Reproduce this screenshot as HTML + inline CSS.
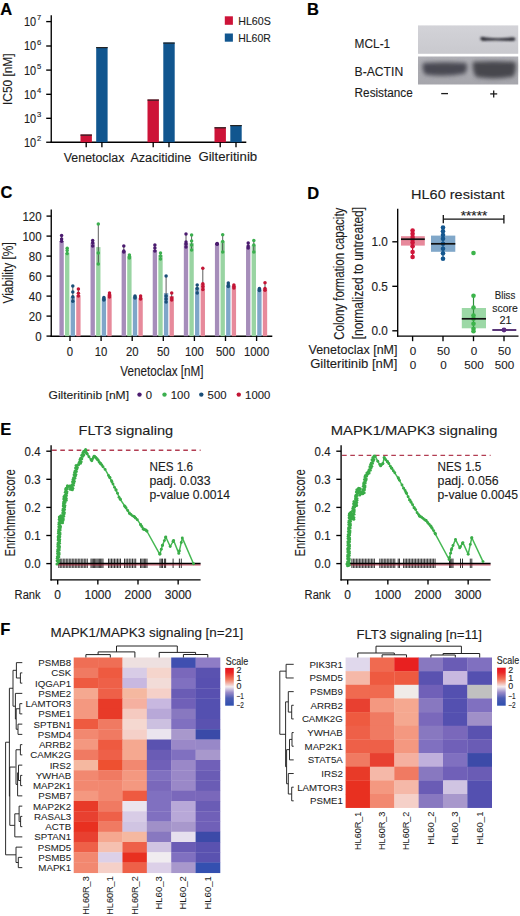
<!DOCTYPE html>
<html><head><meta charset="utf-8"><title>Figure</title>
<style>
html,body{margin:0;padding:0;background:#fff;}
body{width:520px;height:916px;overflow:hidden;}
svg{display:block;font-family:"Liberation Sans", sans-serif;}
</style></head><body>
<svg width="520" height="916" viewBox="0 0 520 916">
<rect width="520" height="916" fill="#fff"/>
<defs><filter id="blur1" x="-30%" y="-100%" width="160%" height="300%"><feGaussianBlur stdDeviation="1.1"/></filter><filter id="blur2" x="-30%" y="-60%" width="160%" height="220%"><feGaussianBlur stdDeviation="2.0"/></filter><filter id="blur3" x="-10%" y="-10%" width="120%" height="120%"><feGaussianBlur stdDeviation="0.6"/></filter></defs>
<text x="0.20" y="14.60" font-size="16.5" text-anchor="start" font-weight="bold" fill="#000" stroke="#000" stroke-width="0.2" >A</text>
<line x1="51.25" y1="15.20" x2="51.25" y2="142.90" stroke="#000" stroke-width="1.35" />
<line x1="50.60" y1="142.25" x2="246.30" y2="142.25" stroke="#000" stroke-width="1.35" />
<line x1="46.20" y1="21.60" x2="51.25" y2="21.60" stroke="#000" stroke-width="1.35" />
<text x="24.00" y="26.00" font-size="12.2" text-anchor="start" font-weight="normal" fill="#1c1c1c" stroke="#1c1c1c" stroke-width="0.12" textLength="12.2" lengthAdjust="spacingAndGlyphs" >10</text>
<text x="37.00" y="20.30" font-size="7.6" text-anchor="start" font-weight="normal" fill="#1c1c1c" stroke="#1c1c1c" stroke-width="0.15" >7</text>
<line x1="46.20" y1="46.00" x2="51.25" y2="46.00" stroke="#000" stroke-width="1.35" />
<text x="24.00" y="50.40" font-size="12.2" text-anchor="start" font-weight="normal" fill="#1c1c1c" stroke="#1c1c1c" stroke-width="0.12" textLength="12.2" lengthAdjust="spacingAndGlyphs" >10</text>
<text x="37.00" y="44.70" font-size="7.6" text-anchor="start" font-weight="normal" fill="#1c1c1c" stroke="#1c1c1c" stroke-width="0.15" >6</text>
<line x1="46.20" y1="70.10" x2="51.25" y2="70.10" stroke="#000" stroke-width="1.35" />
<text x="24.00" y="74.50" font-size="12.2" text-anchor="start" font-weight="normal" fill="#1c1c1c" stroke="#1c1c1c" stroke-width="0.12" textLength="12.2" lengthAdjust="spacingAndGlyphs" >10</text>
<text x="37.00" y="68.80" font-size="7.6" text-anchor="start" font-weight="normal" fill="#1c1c1c" stroke="#1c1c1c" stroke-width="0.15" >5</text>
<line x1="46.20" y1="94.30" x2="51.25" y2="94.30" stroke="#000" stroke-width="1.35" />
<text x="24.00" y="98.70" font-size="12.2" text-anchor="start" font-weight="normal" fill="#1c1c1c" stroke="#1c1c1c" stroke-width="0.12" textLength="12.2" lengthAdjust="spacingAndGlyphs" >10</text>
<text x="37.00" y="93.00" font-size="7.6" text-anchor="start" font-weight="normal" fill="#1c1c1c" stroke="#1c1c1c" stroke-width="0.15" >4</text>
<line x1="46.20" y1="118.30" x2="51.25" y2="118.30" stroke="#000" stroke-width="1.35" />
<text x="24.00" y="122.70" font-size="12.2" text-anchor="start" font-weight="normal" fill="#1c1c1c" stroke="#1c1c1c" stroke-width="0.12" textLength="12.2" lengthAdjust="spacingAndGlyphs" >10</text>
<text x="37.00" y="117.00" font-size="7.6" text-anchor="start" font-weight="normal" fill="#1c1c1c" stroke="#1c1c1c" stroke-width="0.15" >3</text>
<line x1="46.20" y1="142.25" x2="51.25" y2="142.25" stroke="#000" stroke-width="1.35" />
<text x="24.00" y="146.65" font-size="12.2" text-anchor="start" font-weight="normal" fill="#1c1c1c" stroke="#1c1c1c" stroke-width="0.12" textLength="12.2" lengthAdjust="spacingAndGlyphs" >10</text>
<text x="37.00" y="140.95" font-size="7.6" text-anchor="start" font-weight="normal" fill="#1c1c1c" stroke="#1c1c1c" stroke-width="0.15" >2</text>
<text transform="translate(12.30,79.20) rotate(-90)" font-size="12" text-anchor="middle" fill="#1c1c1c" stroke="#1c1c1c" stroke-width="0.12" textLength="51.6" lengthAdjust="spacingAndGlyphs">IC50 [nM]</text>
<rect x="80.50" y="134.50" width="11.40" height="7.75" fill="#cd1338" />
<line x1="80.50" y1="135.10" x2="91.90" y2="135.10" stroke="#222" stroke-width="1.2" />
<line x1="86.20" y1="142.25" x2="86.20" y2="147.30" stroke="#000" stroke-width="1.35" />
<rect x="96.20" y="47.00" width="11.40" height="95.25" fill="#11568f" />
<line x1="96.20" y1="47.60" x2="107.60" y2="47.60" stroke="#222" stroke-width="1.2" />
<line x1="101.90" y1="142.25" x2="101.90" y2="147.30" stroke="#000" stroke-width="1.35" />
<rect x="147.50" y="99.50" width="11.40" height="42.75" fill="#cd1338" />
<line x1="147.50" y1="100.10" x2="158.90" y2="100.10" stroke="#222" stroke-width="1.2" />
<line x1="153.20" y1="142.25" x2="153.20" y2="147.30" stroke="#000" stroke-width="1.35" />
<rect x="163.30" y="42.50" width="11.40" height="99.75" fill="#11568f" />
<line x1="163.30" y1="43.10" x2="174.70" y2="43.10" stroke="#222" stroke-width="1.2" />
<line x1="169.00" y1="142.25" x2="169.00" y2="147.30" stroke="#000" stroke-width="1.35" />
<rect x="214.50" y="127.20" width="11.40" height="15.05" fill="#cd1338" />
<line x1="214.50" y1="127.80" x2="225.90" y2="127.80" stroke="#222" stroke-width="1.2" />
<line x1="220.20" y1="142.25" x2="220.20" y2="147.30" stroke="#000" stroke-width="1.35" />
<rect x="230.30" y="125.00" width="11.40" height="17.25" fill="#11568f" />
<line x1="230.30" y1="125.60" x2="241.70" y2="125.60" stroke="#222" stroke-width="1.2" />
<line x1="236.00" y1="142.25" x2="236.00" y2="147.30" stroke="#000" stroke-width="1.35" />
<text x="63.80" y="161.90" font-size="12" text-anchor="start" font-weight="normal" fill="#1c1c1c" stroke="#1c1c1c" stroke-width="0.12" textLength="60.6" lengthAdjust="spacingAndGlyphs" >Venetoclax</text>
<text x="130.40" y="161.60" font-size="12" text-anchor="start" font-weight="normal" fill="#1c1c1c" stroke="#1c1c1c" stroke-width="0.12" textLength="61.0" lengthAdjust="spacingAndGlyphs" >Azacitidine</text>
<text x="198.40" y="161.20" font-size="12" text-anchor="start" font-weight="normal" fill="#1c1c1c" stroke="#1c1c1c" stroke-width="0.12" textLength="58.8" lengthAdjust="spacingAndGlyphs" >Gilteritinib</text>
<rect x="224.80" y="16.30" width="8.10" height="8.50" fill="#cd1338" />
<rect x="224.80" y="33.50" width="8.10" height="8.20" fill="#11568f" />
<text x="238.20" y="24.50" font-size="10.2" text-anchor="start" font-weight="normal" fill="#1c1c1c" stroke="#1c1c1c" stroke-width="0.12" textLength="32.6" lengthAdjust="spacingAndGlyphs" >HL60S</text>
<text x="238.20" y="41.50" font-size="10.2" text-anchor="start" font-weight="normal" fill="#1c1c1c" stroke="#1c1c1c" stroke-width="0.12" textLength="32.6" lengthAdjust="spacingAndGlyphs" >HL60R</text>
<text x="307.00" y="14.60" font-size="16.5" text-anchor="start" font-weight="bold" fill="#000" stroke="#000" stroke-width="0.2" >B</text>
<text x="354.60" y="47.50" font-size="12" text-anchor="start" font-weight="normal" fill="#1c1c1c" stroke="#1c1c1c" stroke-width="0.12" textLength="35.6" lengthAdjust="spacingAndGlyphs" >MCL-1</text>
<text x="354.60" y="75.50" font-size="12" text-anchor="start" font-weight="normal" fill="#1c1c1c" stroke="#1c1c1c" stroke-width="0.12" textLength="48.6" lengthAdjust="spacingAndGlyphs" >B-ACTIN</text>
<text x="354.60" y="97.30" font-size="12" text-anchor="start" font-weight="normal" fill="#1c1c1c" stroke="#1c1c1c" stroke-width="0.12" textLength="58.2" lengthAdjust="spacingAndGlyphs" >Resistance</text>
<defs><linearGradient id="blotTop" x1="0" y1="0" x2="0" y2="1"><stop offset="0" stop-color="#d3d3d8"/><stop offset="1" stop-color="#c9c9ce"/></linearGradient><linearGradient id="blotBot" x1="0" y1="0" x2="0" y2="1"><stop offset="0" stop-color="#b0b0b6"/><stop offset="1" stop-color="#a6a6ac"/></linearGradient></defs>
<rect x="418.00" y="25.40" width="100.20" height="28.40" fill="url(#blotTop)" />
<rect x="418.00" y="56.50" width="100.20" height="28.00" fill="url(#blotBot)" />
<g filter="url(#blur1)"><path d="M480.5 37.2 Q482 36.2 486 37.6 Q497 38.6 508 37.8 Q514 36.6 515.5 38.6 Q515.5 41.6 511 41 Q497 40.2 486 40.8 Q481 41.6 480.5 39.6 Z" fill="#34343c"/></g>
<g filter="url(#blur2)"><path d="M423 63 Q445 61.5 466.5 63 Q468 69 465 73.5 Q445 77.5 425 74.5 Q421.5 69 423 63 Z" fill="#4a4a52"/><path d="M473 61.8 Q495 60.5 515.5 62 Q517 70 513.5 76.5 Q494 80 476 77 Q471.5 70 473 61.8 Z" fill="#46464e"/></g>
<line x1="441.20" y1="93.60" x2="448.00" y2="93.60" stroke="#1c1c1c" stroke-width="1.3" />
<line x1="490.20" y1="93.90" x2="497.20" y2="93.90" stroke="#1c1c1c" stroke-width="1.3" />
<line x1="493.70" y1="90.40" x2="493.70" y2="97.40" stroke="#1c1c1c" stroke-width="1.3" />
<text x="0.40" y="198.20" font-size="16.5" text-anchor="start" font-weight="bold" fill="#000" stroke="#000" stroke-width="0.2" >C</text>
<line x1="51.25" y1="209.60" x2="51.25" y2="336.90" stroke="#000" stroke-width="1.35" />
<line x1="50.60" y1="336.20" x2="272.30" y2="336.20" stroke="#000" stroke-width="1.35" />
<line x1="46.50" y1="336.10" x2="51.25" y2="336.10" stroke="#000" stroke-width="1.35" />
<text x="41.60" y="340.80" font-size="12.2" text-anchor="end" font-weight="normal" fill="#1c1c1c" stroke="#1c1c1c" stroke-width="0.12" textLength="6.4" lengthAdjust="spacingAndGlyphs" >0</text>
<line x1="46.50" y1="316.10" x2="51.25" y2="316.10" stroke="#000" stroke-width="1.35" />
<text x="41.60" y="320.80" font-size="12.2" text-anchor="end" font-weight="normal" fill="#1c1c1c" stroke="#1c1c1c" stroke-width="0.12" textLength="12.8" lengthAdjust="spacingAndGlyphs" >20</text>
<line x1="46.50" y1="296.10" x2="51.25" y2="296.10" stroke="#000" stroke-width="1.35" />
<text x="41.60" y="300.80" font-size="12.2" text-anchor="end" font-weight="normal" fill="#1c1c1c" stroke="#1c1c1c" stroke-width="0.12" textLength="12.8" lengthAdjust="spacingAndGlyphs" >40</text>
<line x1="46.50" y1="276.10" x2="51.25" y2="276.10" stroke="#000" stroke-width="1.35" />
<text x="41.60" y="280.80" font-size="12.2" text-anchor="end" font-weight="normal" fill="#1c1c1c" stroke="#1c1c1c" stroke-width="0.12" textLength="12.8" lengthAdjust="spacingAndGlyphs" >60</text>
<line x1="46.50" y1="256.10" x2="51.25" y2="256.10" stroke="#000" stroke-width="1.35" />
<text x="41.60" y="260.80" font-size="12.2" text-anchor="end" font-weight="normal" fill="#1c1c1c" stroke="#1c1c1c" stroke-width="0.12" textLength="12.8" lengthAdjust="spacingAndGlyphs" >80</text>
<line x1="46.50" y1="236.10" x2="51.25" y2="236.10" stroke="#000" stroke-width="1.35" />
<text x="41.60" y="240.80" font-size="12.2" text-anchor="end" font-weight="normal" fill="#1c1c1c" stroke="#1c1c1c" stroke-width="0.12" textLength="19.2" lengthAdjust="spacingAndGlyphs" >100</text>
<line x1="46.50" y1="216.10" x2="51.25" y2="216.10" stroke="#000" stroke-width="1.35" />
<text x="41.60" y="220.80" font-size="12.2" text-anchor="end" font-weight="normal" fill="#1c1c1c" stroke="#1c1c1c" stroke-width="0.12" textLength="19.2" lengthAdjust="spacingAndGlyphs" >120</text>
<text transform="translate(12.60,272.90) rotate(-90)" font-size="14" text-anchor="middle" fill="#1c1c1c" stroke="#1c1c1c" stroke-width="0.12" textLength="61.3" lengthAdjust="spacingAndGlyphs">Viability [%]</text>
<line x1="70.00" y1="336.20" x2="70.00" y2="341.00" stroke="#000" stroke-width="1.35" />
<text x="70.00" y="355.60" font-size="12.2" text-anchor="middle" font-weight="normal" fill="#1c1c1c" stroke="#1c1c1c" stroke-width="0.12" textLength="6.3" lengthAdjust="spacingAndGlyphs" >0</text>
<rect x="59.43" y="241.10" width="4.35" height="95.10" fill="#a68dba" />
<line x1="61.60" y1="235.60" x2="61.60" y2="241.30" stroke="#333" stroke-width="0.8" />
<circle cx="61.60" cy="235.60" r="1.75" fill="#4b1b6f" />
<circle cx="61.60" cy="239.10" r="1.75" fill="#4b1b6f" />
<circle cx="61.60" cy="241.30" r="1.75" fill="#4b1b6f" />
<rect x="65.03" y="252.80" width="4.35" height="83.40" fill="#99d4a2" />
<line x1="67.20" y1="248.30" x2="67.20" y2="253.60" stroke="#333" stroke-width="0.8" />
<circle cx="67.20" cy="248.30" r="1.75" fill="#3caf4f" />
<circle cx="67.20" cy="250.60" r="1.75" fill="#3caf4f" />
<circle cx="67.20" cy="253.60" r="1.75" fill="#3caf4f" />
<rect x="70.62" y="296.80" width="4.35" height="39.40" fill="#7fa6c9" />
<line x1="72.80" y1="286.10" x2="72.80" y2="301.30" stroke="#333" stroke-width="0.8" />
<circle cx="72.80" cy="286.10" r="1.75" fill="#1a4f78" />
<circle cx="72.80" cy="292.10" r="1.75" fill="#1a4f78" />
<circle cx="72.80" cy="296.70" r="1.75" fill="#1a4f78" />
<circle cx="72.80" cy="301.30" r="1.75" fill="#1a4f78" />
<rect x="76.23" y="295.20" width="4.35" height="41.00" fill="#e78a9b" />
<line x1="78.40" y1="289.10" x2="78.40" y2="296.10" stroke="#333" stroke-width="0.8" />
<circle cx="78.40" cy="289.10" r="1.75" fill="#c21535" />
<circle cx="78.40" cy="293.30" r="1.75" fill="#c21535" />
<circle cx="78.40" cy="296.10" r="1.75" fill="#c21535" />
<line x1="101.10" y1="336.20" x2="101.10" y2="341.00" stroke="#000" stroke-width="1.35" />
<text x="101.10" y="355.60" font-size="12.2" text-anchor="middle" font-weight="normal" fill="#1c1c1c" stroke="#1c1c1c" stroke-width="0.12" textLength="12.6" lengthAdjust="spacingAndGlyphs" >10</text>
<rect x="90.52" y="242.80" width="4.35" height="93.40" fill="#a68dba" />
<line x1="92.70" y1="240.60" x2="92.70" y2="246.00" stroke="#333" stroke-width="0.8" />
<circle cx="92.70" cy="240.60" r="1.75" fill="#4b1b6f" />
<circle cx="92.70" cy="242.80" r="1.75" fill="#4b1b6f" />
<circle cx="92.70" cy="246.00" r="1.75" fill="#4b1b6f" />
<rect x="96.12" y="247.10" width="4.35" height="89.10" fill="#99d4a2" />
<line x1="98.30" y1="224.10" x2="98.30" y2="264.10" stroke="#333" stroke-width="0.8" />
<circle cx="98.30" cy="224.10" r="1.75" fill="#3caf4f" />
<circle cx="98.30" cy="253.10" r="1.75" fill="#3caf4f" />
<circle cx="98.30" cy="264.10" r="1.75" fill="#3caf4f" />
<rect x="101.72" y="298.30" width="4.35" height="37.90" fill="#7fa6c9" />
<line x1="103.90" y1="297.60" x2="103.90" y2="300.10" stroke="#333" stroke-width="0.8" />
<circle cx="103.90" cy="297.60" r="1.75" fill="#1a4f78" />
<circle cx="103.90" cy="299.10" r="1.75" fill="#1a4f78" />
<circle cx="103.90" cy="300.10" r="1.75" fill="#1a4f78" />
<rect x="107.33" y="294.40" width="4.35" height="41.80" fill="#e78a9b" />
<line x1="109.50" y1="293.10" x2="109.50" y2="297.10" stroke="#333" stroke-width="0.8" />
<circle cx="109.50" cy="293.10" r="1.75" fill="#c21535" />
<circle cx="109.50" cy="295.10" r="1.75" fill="#c21535" />
<circle cx="109.50" cy="297.10" r="1.75" fill="#c21535" />
<line x1="132.20" y1="336.20" x2="132.20" y2="341.00" stroke="#000" stroke-width="1.35" />
<text x="132.20" y="355.60" font-size="12.2" text-anchor="middle" font-weight="normal" fill="#1c1c1c" stroke="#1c1c1c" stroke-width="0.12" textLength="12.6" lengthAdjust="spacingAndGlyphs" >20</text>
<rect x="121.62" y="251.10" width="4.35" height="85.10" fill="#a68dba" />
<line x1="123.80" y1="246.10" x2="123.80" y2="252.10" stroke="#333" stroke-width="0.8" />
<circle cx="123.80" cy="246.10" r="1.75" fill="#4b1b6f" />
<circle cx="123.80" cy="251.10" r="1.75" fill="#4b1b6f" />
<circle cx="123.80" cy="252.10" r="1.75" fill="#4b1b6f" />
<rect x="127.22" y="256.10" width="4.35" height="80.10" fill="#99d4a2" />
<line x1="129.40" y1="255.10" x2="129.40" y2="258.10" stroke="#333" stroke-width="0.8" />
<circle cx="129.40" cy="255.10" r="1.75" fill="#3caf4f" />
<circle cx="129.40" cy="257.10" r="1.75" fill="#3caf4f" />
<circle cx="129.40" cy="258.10" r="1.75" fill="#3caf4f" />
<rect x="132.82" y="297.10" width="4.35" height="39.10" fill="#7fa6c9" />
<line x1="135.00" y1="296.10" x2="135.00" y2="298.10" stroke="#333" stroke-width="0.8" />
<circle cx="135.00" cy="296.10" r="1.75" fill="#1a4f78" />
<circle cx="135.00" cy="297.10" r="1.75" fill="#1a4f78" />
<circle cx="135.00" cy="298.10" r="1.75" fill="#1a4f78" />
<rect x="138.42" y="298.10" width="4.35" height="38.10" fill="#e78a9b" />
<line x1="140.60" y1="296.10" x2="140.60" y2="299.10" stroke="#333" stroke-width="0.8" />
<circle cx="140.60" cy="296.10" r="1.75" fill="#c21535" />
<circle cx="140.60" cy="298.10" r="1.75" fill="#c21535" />
<circle cx="140.60" cy="299.10" r="1.75" fill="#c21535" />
<line x1="163.30" y1="336.20" x2="163.30" y2="341.00" stroke="#000" stroke-width="1.35" />
<text x="163.30" y="355.60" font-size="12.2" text-anchor="middle" font-weight="normal" fill="#1c1c1c" stroke="#1c1c1c" stroke-width="0.12" textLength="12.6" lengthAdjust="spacingAndGlyphs" >50</text>
<rect x="152.72" y="250.10" width="4.35" height="86.10" fill="#a68dba" />
<line x1="154.90" y1="245.10" x2="154.90" y2="251.10" stroke="#333" stroke-width="0.8" />
<circle cx="154.90" cy="245.10" r="1.75" fill="#4b1b6f" />
<circle cx="154.90" cy="248.10" r="1.75" fill="#4b1b6f" />
<circle cx="154.90" cy="251.10" r="1.75" fill="#4b1b6f" />
<rect x="158.32" y="255.10" width="4.35" height="81.10" fill="#99d4a2" />
<line x1="160.50" y1="253.10" x2="160.50" y2="259.10" stroke="#333" stroke-width="0.8" />
<circle cx="160.50" cy="253.10" r="1.75" fill="#3caf4f" />
<circle cx="160.50" cy="256.10" r="1.75" fill="#3caf4f" />
<circle cx="160.50" cy="259.10" r="1.75" fill="#3caf4f" />
<rect x="163.93" y="293.10" width="4.35" height="43.10" fill="#7fa6c9" />
<line x1="166.10" y1="276.10" x2="166.10" y2="302.10" stroke="#333" stroke-width="0.8" />
<circle cx="166.10" cy="276.10" r="1.75" fill="#1a4f78" />
<circle cx="166.10" cy="296.10" r="1.75" fill="#1a4f78" />
<circle cx="166.10" cy="299.10" r="1.75" fill="#1a4f78" />
<circle cx="166.10" cy="302.10" r="1.75" fill="#1a4f78" />
<rect x="169.53" y="296.10" width="4.35" height="40.10" fill="#e78a9b" />
<line x1="171.70" y1="293.10" x2="171.70" y2="300.10" stroke="#333" stroke-width="0.8" />
<circle cx="171.70" cy="293.10" r="1.75" fill="#c21535" />
<circle cx="171.70" cy="298.10" r="1.75" fill="#c21535" />
<circle cx="171.70" cy="300.10" r="1.75" fill="#c21535" />
<line x1="194.40" y1="336.20" x2="194.40" y2="341.00" stroke="#000" stroke-width="1.35" />
<text x="194.40" y="355.60" font-size="12.2" text-anchor="middle" font-weight="normal" fill="#1c1c1c" stroke="#1c1c1c" stroke-width="0.12" textLength="18.9" lengthAdjust="spacingAndGlyphs" >100</text>
<rect x="183.82" y="243.10" width="4.35" height="93.10" fill="#a68dba" />
<line x1="186.00" y1="234.10" x2="186.00" y2="247.10" stroke="#333" stroke-width="0.8" />
<circle cx="186.00" cy="234.10" r="1.75" fill="#4b1b6f" />
<circle cx="186.00" cy="242.10" r="1.75" fill="#4b1b6f" />
<circle cx="186.00" cy="244.10" r="1.75" fill="#4b1b6f" />
<circle cx="186.00" cy="247.10" r="1.75" fill="#4b1b6f" />
<rect x="189.42" y="243.10" width="4.35" height="93.10" fill="#99d4a2" />
<line x1="191.60" y1="235.10" x2="191.60" y2="250.10" stroke="#333" stroke-width="0.8" />
<circle cx="191.60" cy="235.10" r="1.75" fill="#3caf4f" />
<circle cx="191.60" cy="241.10" r="1.75" fill="#3caf4f" />
<circle cx="191.60" cy="245.10" r="1.75" fill="#3caf4f" />
<circle cx="191.60" cy="250.10" r="1.75" fill="#3caf4f" />
<rect x="195.03" y="287.60" width="4.35" height="48.60" fill="#7fa6c9" />
<line x1="197.20" y1="285.10" x2="197.20" y2="293.10" stroke="#333" stroke-width="0.8" />
<circle cx="197.20" cy="285.10" r="1.75" fill="#1a4f78" />
<circle cx="197.20" cy="288.60" r="1.75" fill="#1a4f78" />
<circle cx="197.20" cy="293.10" r="1.75" fill="#1a4f78" />
<rect x="200.62" y="283.80" width="4.35" height="52.40" fill="#e78a9b" />
<line x1="202.80" y1="268.30" x2="202.80" y2="289.50" stroke="#333" stroke-width="0.8" />
<circle cx="202.80" cy="268.30" r="1.75" fill="#c21535" />
<circle cx="202.80" cy="283.80" r="1.75" fill="#c21535" />
<circle cx="202.80" cy="286.60" r="1.75" fill="#c21535" />
<circle cx="202.80" cy="289.50" r="1.75" fill="#c21535" />
<line x1="225.50" y1="336.20" x2="225.50" y2="341.00" stroke="#000" stroke-width="1.35" />
<text x="225.50" y="355.60" font-size="12.2" text-anchor="middle" font-weight="normal" fill="#1c1c1c" stroke="#1c1c1c" stroke-width="0.12" textLength="18.9" lengthAdjust="spacingAndGlyphs" >500</text>
<rect x="214.92" y="243.80" width="4.35" height="92.40" fill="#a68dba" />
<line x1="217.10" y1="243.50" x2="217.10" y2="244.30" stroke="#333" stroke-width="0.8" />
<circle cx="217.10" cy="243.50" r="1.75" fill="#4b1b6f" />
<circle cx="217.10" cy="244.00" r="1.75" fill="#4b1b6f" />
<circle cx="217.10" cy="244.30" r="1.75" fill="#4b1b6f" />
<rect x="220.52" y="241.50" width="4.35" height="94.70" fill="#99d4a2" />
<line x1="222.70" y1="234.70" x2="222.70" y2="252.10" stroke="#333" stroke-width="0.8" />
<circle cx="222.70" cy="234.70" r="1.75" fill="#3caf4f" />
<circle cx="222.70" cy="241.50" r="1.75" fill="#3caf4f" />
<circle cx="222.70" cy="252.10" r="1.75" fill="#3caf4f" />
<rect x="226.12" y="285.10" width="4.35" height="51.10" fill="#7fa6c9" />
<line x1="228.30" y1="283.10" x2="228.30" y2="286.60" stroke="#333" stroke-width="0.8" />
<circle cx="228.30" cy="283.10" r="1.75" fill="#1a4f78" />
<circle cx="228.30" cy="285.10" r="1.75" fill="#1a4f78" />
<circle cx="228.30" cy="286.60" r="1.75" fill="#1a4f78" />
<rect x="231.72" y="286.10" width="4.35" height="50.10" fill="#e78a9b" />
<line x1="233.90" y1="285.10" x2="233.90" y2="288.10" stroke="#333" stroke-width="0.8" />
<circle cx="233.90" cy="285.10" r="1.75" fill="#c21535" />
<circle cx="233.90" cy="286.60" r="1.75" fill="#c21535" />
<circle cx="233.90" cy="288.10" r="1.75" fill="#c21535" />
<line x1="256.60" y1="336.20" x2="256.60" y2="341.00" stroke="#000" stroke-width="1.35" />
<text x="256.60" y="355.60" font-size="12.2" text-anchor="middle" font-weight="normal" fill="#1c1c1c" stroke="#1c1c1c" stroke-width="0.12" textLength="25.2" lengthAdjust="spacingAndGlyphs" >1000</text>
<rect x="246.03" y="246.30" width="4.35" height="89.90" fill="#a68dba" />
<line x1="248.20" y1="243.10" x2="248.20" y2="248.10" stroke="#333" stroke-width="0.8" />
<circle cx="248.20" cy="243.10" r="1.75" fill="#4b1b6f" />
<circle cx="248.20" cy="246.10" r="1.75" fill="#4b1b6f" />
<circle cx="248.20" cy="248.10" r="1.75" fill="#4b1b6f" />
<rect x="251.62" y="245.10" width="4.35" height="91.10" fill="#99d4a2" />
<line x1="253.80" y1="240.50" x2="253.80" y2="252.10" stroke="#333" stroke-width="0.8" />
<circle cx="253.80" cy="240.50" r="1.75" fill="#3caf4f" />
<circle cx="253.80" cy="245.10" r="1.75" fill="#3caf4f" />
<circle cx="253.80" cy="252.10" r="1.75" fill="#3caf4f" />
<rect x="257.23" y="289.50" width="4.35" height="46.70" fill="#7fa6c9" />
<line x1="259.40" y1="288.60" x2="259.40" y2="290.60" stroke="#333" stroke-width="0.8" />
<circle cx="259.40" cy="288.60" r="1.75" fill="#1a4f78" />
<circle cx="259.40" cy="289.60" r="1.75" fill="#1a4f78" />
<circle cx="259.40" cy="290.60" r="1.75" fill="#1a4f78" />
<rect x="262.82" y="288.60" width="4.35" height="47.60" fill="#e78a9b" />
<line x1="265.00" y1="282.80" x2="265.00" y2="290.30" stroke="#333" stroke-width="0.8" />
<circle cx="265.00" cy="282.80" r="1.75" fill="#c21535" />
<circle cx="265.00" cy="288.60" r="1.75" fill="#c21535" />
<circle cx="265.00" cy="290.30" r="1.75" fill="#c21535" />
<text x="120.30" y="375.70" font-size="14" text-anchor="start" font-weight="normal" fill="#1c1c1c" stroke="#1c1c1c" stroke-width="0.12" textLength="83.3" lengthAdjust="spacingAndGlyphs" >Venetoclax [nM]</text>
<text x="48.50" y="398.80" font-size="11.6" text-anchor="start" font-weight="normal" fill="#1c1c1c" stroke="#1c1c1c" stroke-width="0.12" textLength="80.5" lengthAdjust="spacingAndGlyphs" >Gilteritinib [nM]</text>
<circle cx="139.50" cy="394.60" r="2.2" fill="#4b1b6f" />
<text x="145.80" y="398.80" font-size="11.6" text-anchor="start" font-weight="normal" fill="#1c1c1c" stroke="#1c1c1c" stroke-width="0.12" textLength="6.3" lengthAdjust="spacingAndGlyphs" >0</text>
<circle cx="164.50" cy="394.60" r="2.2" fill="#3caf4f" />
<text x="170.80" y="398.80" font-size="11.6" text-anchor="start" font-weight="normal" fill="#1c1c1c" stroke="#1c1c1c" stroke-width="0.12" textLength="18.9" lengthAdjust="spacingAndGlyphs" >100</text>
<circle cx="201.30" cy="394.60" r="2.2" fill="#1a4f78" />
<text x="207.60" y="398.80" font-size="11.6" text-anchor="start" font-weight="normal" fill="#1c1c1c" stroke="#1c1c1c" stroke-width="0.12" textLength="18.9" lengthAdjust="spacingAndGlyphs" >500</text>
<circle cx="238.80" cy="394.60" r="2.2" fill="#c21535" />
<text x="245.10" y="398.80" font-size="11.6" text-anchor="start" font-weight="normal" fill="#1c1c1c" stroke="#1c1c1c" stroke-width="0.12" textLength="25.2" lengthAdjust="spacingAndGlyphs" >1000</text>
<text x="307.30" y="198.60" font-size="16.5" text-anchor="start" font-weight="bold" fill="#000" stroke="#000" stroke-width="0.2" >D</text>
<text x="411.00" y="199.30" font-size="13.5" text-anchor="start" font-weight="normal" fill="#1c1c1c" stroke="#1c1c1c" stroke-width="0.12" textLength="93.6" lengthAdjust="spacingAndGlyphs" >HL60 resistant</text>
<line x1="397.70" y1="208.70" x2="397.70" y2="336.80" stroke="#000" stroke-width="1.35" />
<line x1="397.05" y1="336.10" x2="518.50" y2="336.10" stroke="#000" stroke-width="1.35" />
<line x1="392.30" y1="241.80" x2="397.70" y2="241.80" stroke="#000" stroke-width="1.35" />
<text x="371.50" y="246.20" font-size="12.2" text-anchor="start" font-weight="normal" fill="#1c1c1c" stroke="#1c1c1c" stroke-width="0.12" textLength="16.4" lengthAdjust="spacingAndGlyphs" >1.0</text>
<line x1="392.30" y1="286.30" x2="397.70" y2="286.30" stroke="#000" stroke-width="1.35" />
<text x="371.50" y="290.70" font-size="12.2" text-anchor="start" font-weight="normal" fill="#1c1c1c" stroke="#1c1c1c" stroke-width="0.12" textLength="16.4" lengthAdjust="spacingAndGlyphs" >0.5</text>
<line x1="392.30" y1="330.80" x2="397.70" y2="330.80" stroke="#000" stroke-width="1.35" />
<text x="371.50" y="335.20" font-size="12.2" text-anchor="start" font-weight="normal" fill="#1c1c1c" stroke="#1c1c1c" stroke-width="0.12" textLength="16.4" lengthAdjust="spacingAndGlyphs" >0.0</text>
<text transform="translate(344.20,273.70) rotate(-90)" font-size="14.5" text-anchor="middle" fill="#1c1c1c" stroke="#1c1c1c" stroke-width="0.12" textLength="132.0" lengthAdjust="spacingAndGlyphs">Colony formation capacity</text>
<text transform="translate(362.70,273.10) rotate(-90)" font-size="14.5" text-anchor="middle" fill="#1c1c1c" stroke="#1c1c1c" stroke-width="0.12" textLength="132.4" lengthAdjust="spacingAndGlyphs">[normalized to untreated]</text>
<line x1="412.60" y1="336.10" x2="412.60" y2="341.20" stroke="#000" stroke-width="1.35" />
<line x1="443.00" y1="336.10" x2="443.00" y2="341.20" stroke="#000" stroke-width="1.35" />
<line x1="473.50" y1="336.10" x2="473.50" y2="341.20" stroke="#000" stroke-width="1.35" />
<line x1="504.00" y1="336.10" x2="504.00" y2="341.20" stroke="#000" stroke-width="1.35" />
<rect x="401.00" y="236.20" width="23.80" height="9.40" fill="#e7899b" />
<line x1="412.60" y1="230.50" x2="412.60" y2="257.00" stroke="#c41434" stroke-width="1.2" />
<circle cx="412.60" cy="230.50" r="2.3" fill="#d0163a" />
<circle cx="412.60" cy="233.80" r="2.3" fill="#d0163a" />
<circle cx="412.60" cy="237.00" r="2.3" fill="#d0163a" />
<circle cx="412.60" cy="239.50" r="2.3" fill="#d0163a" />
<circle cx="412.60" cy="242.50" r="2.3" fill="#d0163a" />
<circle cx="412.60" cy="246.30" r="2.3" fill="#d0163a" />
<circle cx="412.60" cy="252.00" r="2.3" fill="#d0163a" />
<circle cx="412.60" cy="257.00" r="2.3" fill="#d0163a" />
<line x1="401.00" y1="239.20" x2="424.80" y2="239.20" stroke="#111" stroke-width="1.7" />
<rect x="431.00" y="235.60" width="24.30" height="16.20" fill="#80a7c9" />
<line x1="443.00" y1="227.50" x2="443.00" y2="258.80" stroke="#15578f" stroke-width="1.2" />
<circle cx="443.00" cy="227.50" r="2.3" fill="#15578f" />
<circle cx="443.00" cy="231.30" r="2.3" fill="#15578f" />
<circle cx="443.00" cy="235.00" r="2.3" fill="#15578f" />
<circle cx="443.00" cy="238.80" r="2.3" fill="#15578f" />
<circle cx="443.00" cy="243.80" r="2.3" fill="#15578f" />
<circle cx="443.00" cy="248.80" r="2.3" fill="#15578f" />
<circle cx="443.00" cy="253.30" r="2.3" fill="#15578f" />
<circle cx="443.00" cy="258.80" r="2.3" fill="#15578f" />
<line x1="431.00" y1="243.80" x2="455.30" y2="243.80" stroke="#111" stroke-width="1.7" />
<circle cx="473.50" cy="253.00" r="2.3" fill="#3cb44b" />
<rect x="461.80" y="308.00" width="24.20" height="20.30" fill="#9cd8a6" />
<line x1="473.50" y1="295.80" x2="473.50" y2="331.30" stroke="#2f8f3c" stroke-width="1.2" />
<circle cx="473.50" cy="295.80" r="2.3" fill="#3cb44b" />
<circle cx="473.50" cy="307.50" r="2.3" fill="#3cb44b" />
<circle cx="473.50" cy="315.50" r="2.3" fill="#3cb44b" />
<circle cx="473.50" cy="318.80" r="2.3" fill="#3cb44b" />
<circle cx="473.50" cy="323.80" r="2.3" fill="#3cb44b" />
<circle cx="473.50" cy="328.80" r="2.3" fill="#3cb44b" />
<circle cx="473.50" cy="331.30" r="2.3" fill="#3cb44b" />
<line x1="461.80" y1="318.80" x2="486.00" y2="318.80" stroke="#111" stroke-width="1.7" />
<line x1="492.30" y1="330.00" x2="516.30" y2="330.00" stroke="#3d1460" stroke-width="1.7" />
<circle cx="504.00" cy="330.00" r="2.4" fill="#5b2a80" />
<line x1="443.30" y1="219.10" x2="503.90" y2="219.10" stroke="#111" stroke-width="1.3" />
<line x1="443.30" y1="215.10" x2="443.30" y2="223.30" stroke="#111" stroke-width="1.3" />
<line x1="503.90" y1="215.10" x2="503.90" y2="223.50" stroke="#111" stroke-width="1.3" />
<text x="474.00" y="219.80" font-size="12.5" text-anchor="middle" font-weight="normal" fill="#1c1c1c" stroke="#1c1c1c" stroke-width="0.15" textLength="26.5" lengthAdjust="spacingAndGlyphs" >*****</text>
<text x="505.00" y="298.90" font-size="11.6" text-anchor="middle" font-weight="normal" fill="#1c1c1c" stroke="#1c1c1c" stroke-width="0.12" textLength="20.5" lengthAdjust="spacingAndGlyphs" >Bliss</text>
<text x="505.00" y="311.50" font-size="11.6" text-anchor="middle" font-weight="normal" fill="#1c1c1c" stroke="#1c1c1c" stroke-width="0.12" textLength="25.5" lengthAdjust="spacingAndGlyphs" >score</text>
<text x="505.50" y="323.90" font-size="11.6" text-anchor="middle" font-weight="normal" fill="#1c1c1c" stroke="#1c1c1c" stroke-width="0.12" textLength="12.2" lengthAdjust="spacingAndGlyphs" >21</text>
<text x="308.50" y="353.50" font-size="12" text-anchor="start" font-weight="normal" fill="#1c1c1c" stroke="#1c1c1c" stroke-width="0.12" textLength="89.0" lengthAdjust="spacingAndGlyphs" >Venetoclax [nM]</text>
<text x="310.20" y="367.50" font-size="12" text-anchor="start" font-weight="normal" fill="#1c1c1c" stroke="#1c1c1c" stroke-width="0.12" textLength="87.2" lengthAdjust="spacingAndGlyphs" >Gilteritinib [nM]</text>
<text x="413.00" y="355.40" font-size="11.8" text-anchor="middle" font-weight="normal" fill="#1c1c1c" stroke="#1c1c1c" stroke-width="0.12" textLength="6.5" lengthAdjust="spacingAndGlyphs" >0</text>
<text x="413.00" y="369.40" font-size="11.8" text-anchor="middle" font-weight="normal" fill="#1c1c1c" stroke="#1c1c1c" stroke-width="0.12" textLength="6.5" lengthAdjust="spacingAndGlyphs" >0</text>
<text x="443.40" y="355.40" font-size="11.8" text-anchor="middle" font-weight="normal" fill="#1c1c1c" stroke="#1c1c1c" stroke-width="0.12" textLength="13.0" lengthAdjust="spacingAndGlyphs" >50</text>
<text x="443.40" y="369.40" font-size="11.8" text-anchor="middle" font-weight="normal" fill="#1c1c1c" stroke="#1c1c1c" stroke-width="0.12" textLength="6.5" lengthAdjust="spacingAndGlyphs" >0</text>
<text x="473.90" y="355.40" font-size="11.8" text-anchor="middle" font-weight="normal" fill="#1c1c1c" stroke="#1c1c1c" stroke-width="0.12" textLength="6.5" lengthAdjust="spacingAndGlyphs" >0</text>
<text x="473.90" y="369.40" font-size="11.8" text-anchor="middle" font-weight="normal" fill="#1c1c1c" stroke="#1c1c1c" stroke-width="0.12" textLength="19.5" lengthAdjust="spacingAndGlyphs" >500</text>
<text x="504.40" y="355.40" font-size="11.8" text-anchor="middle" font-weight="normal" fill="#1c1c1c" stroke="#1c1c1c" stroke-width="0.12" textLength="13.0" lengthAdjust="spacingAndGlyphs" >50</text>
<text x="504.40" y="369.40" font-size="11.8" text-anchor="middle" font-weight="normal" fill="#1c1c1c" stroke="#1c1c1c" stroke-width="0.12" textLength="19.5" lengthAdjust="spacingAndGlyphs" >500</text>
<text x="0.30" y="434.60" font-size="16.5" text-anchor="start" font-weight="bold" fill="#000" stroke="#000" stroke-width="0.2" >E</text>
<line x1="51.10" y1="445.20" x2="51.10" y2="580.60" stroke="#000" stroke-width="1.35" />
<line x1="50.45" y1="579.90" x2="200.60" y2="579.90" stroke="#000" stroke-width="1.35" />
<line x1="46.30" y1="563.60" x2="51.10" y2="563.60" stroke="#000" stroke-width="1.35" />
<text x="24.60" y="568.10" font-size="12.2" text-anchor="start" font-weight="normal" fill="#1c1c1c" stroke="#1c1c1c" stroke-width="0.12" textLength="15.9" lengthAdjust="spacingAndGlyphs" >0.0</text>
<line x1="46.30" y1="535.50" x2="51.10" y2="535.50" stroke="#000" stroke-width="1.35" />
<text x="24.60" y="540.00" font-size="12.2" text-anchor="start" font-weight="normal" fill="#1c1c1c" stroke="#1c1c1c" stroke-width="0.12" textLength="15.9" lengthAdjust="spacingAndGlyphs" >0.1</text>
<line x1="46.30" y1="507.40" x2="51.10" y2="507.40" stroke="#000" stroke-width="1.35" />
<text x="24.60" y="511.90" font-size="12.2" text-anchor="start" font-weight="normal" fill="#1c1c1c" stroke="#1c1c1c" stroke-width="0.12" textLength="15.9" lengthAdjust="spacingAndGlyphs" >0.2</text>
<line x1="46.30" y1="479.30" x2="51.10" y2="479.30" stroke="#000" stroke-width="1.35" />
<text x="24.60" y="483.80" font-size="12.2" text-anchor="start" font-weight="normal" fill="#1c1c1c" stroke="#1c1c1c" stroke-width="0.12" textLength="15.9" lengthAdjust="spacingAndGlyphs" >0.3</text>
<line x1="46.30" y1="451.20" x2="51.10" y2="451.20" stroke="#000" stroke-width="1.35" />
<text x="24.60" y="455.70" font-size="12.2" text-anchor="start" font-weight="normal" fill="#1c1c1c" stroke="#1c1c1c" stroke-width="0.12" textLength="15.9" lengthAdjust="spacingAndGlyphs" >0.4</text>
<line x1="57.70" y1="579.90" x2="57.70" y2="584.60" stroke="#000" stroke-width="1.35" />
<text x="57.70" y="599.40" font-size="12.2" text-anchor="middle" font-weight="normal" fill="#1c1c1c" stroke="#1c1c1c" stroke-width="0.12" textLength="6.7" lengthAdjust="spacingAndGlyphs" >0</text>
<line x1="97.85" y1="579.90" x2="97.85" y2="584.60" stroke="#000" stroke-width="1.35" />
<text x="97.85" y="599.40" font-size="12.2" text-anchor="middle" font-weight="normal" fill="#1c1c1c" stroke="#1c1c1c" stroke-width="0.12" textLength="26.8" lengthAdjust="spacingAndGlyphs" >1000</text>
<line x1="138.00" y1="579.90" x2="138.00" y2="584.60" stroke="#000" stroke-width="1.35" />
<text x="138.00" y="599.40" font-size="12.2" text-anchor="middle" font-weight="normal" fill="#1c1c1c" stroke="#1c1c1c" stroke-width="0.12" textLength="26.8" lengthAdjust="spacingAndGlyphs" >2000</text>
<line x1="178.15" y1="579.90" x2="178.15" y2="584.60" stroke="#000" stroke-width="1.35" />
<text x="178.15" y="599.40" font-size="12.2" text-anchor="middle" font-weight="normal" fill="#1c1c1c" stroke="#1c1c1c" stroke-width="0.12" textLength="26.8" lengthAdjust="spacingAndGlyphs" >3000</text>
<text x="14.60" y="598.80" font-size="12" text-anchor="start" font-weight="normal" fill="#1c1c1c" stroke="#1c1c1c" stroke-width="0.12" textLength="26.0" lengthAdjust="spacingAndGlyphs" >Rank</text>
<text transform="translate(14.70,512.90) rotate(-90)" font-size="14" text-anchor="middle" fill="#1c1c1c" stroke="#1c1c1c" stroke-width="0.12" textLength="87.2" lengthAdjust="spacingAndGlyphs">Enrichment score</text>
<text x="78.60" y="435.10" font-size="13.5" text-anchor="start" font-weight="normal" fill="#1c1c1c" stroke="#1c1c1c" stroke-width="0.12" textLength="94.6" lengthAdjust="spacingAndGlyphs" >FLT3 signaling</text>
<line x1="52.10" y1="450.20" x2="200.60" y2="450.20" stroke="#b23d52" stroke-width="1.35" stroke-dasharray="4.6 3.6"/>
<line x1="58.80" y1="558.60" x2="58.80" y2="568.00" stroke="#111" stroke-width="0.85" />
<line x1="60.30" y1="558.60" x2="60.30" y2="568.00" stroke="#111" stroke-width="0.85" />
<line x1="61.80" y1="558.60" x2="61.80" y2="568.00" stroke="#111" stroke-width="0.85" />
<line x1="63.30" y1="558.60" x2="63.30" y2="568.00" stroke="#111" stroke-width="0.85" />
<line x1="64.80" y1="558.60" x2="64.80" y2="568.00" stroke="#111" stroke-width="0.85" />
<line x1="66.30" y1="558.60" x2="66.30" y2="568.00" stroke="#111" stroke-width="0.85" />
<line x1="67.80" y1="558.60" x2="67.80" y2="568.00" stroke="#111" stroke-width="0.85" />
<line x1="69.30" y1="558.60" x2="69.30" y2="568.00" stroke="#111" stroke-width="0.85" />
<line x1="70.80" y1="558.60" x2="70.80" y2="568.00" stroke="#111" stroke-width="0.85" />
<line x1="72.30" y1="558.60" x2="72.30" y2="568.00" stroke="#111" stroke-width="0.85" />
<line x1="73.80" y1="558.60" x2="73.80" y2="568.00" stroke="#111" stroke-width="0.85" />
<line x1="75.30" y1="558.60" x2="75.30" y2="568.00" stroke="#111" stroke-width="0.85" />
<line x1="76.80" y1="558.60" x2="76.80" y2="568.00" stroke="#111" stroke-width="0.85" />
<line x1="78.30" y1="558.60" x2="78.30" y2="568.00" stroke="#111" stroke-width="0.85" />
<line x1="79.80" y1="558.60" x2="79.80" y2="568.00" stroke="#111" stroke-width="0.85" />
<line x1="81.30" y1="558.60" x2="81.30" y2="568.00" stroke="#111" stroke-width="0.85" />
<line x1="82.80" y1="558.60" x2="82.80" y2="568.00" stroke="#111" stroke-width="0.85" />
<line x1="84.30" y1="558.60" x2="84.30" y2="568.00" stroke="#111" stroke-width="0.85" />
<line x1="85.80" y1="558.60" x2="85.80" y2="568.00" stroke="#111" stroke-width="0.85" />
<line x1="87.30" y1="558.60" x2="87.30" y2="568.00" stroke="#111" stroke-width="0.85" />
<line x1="91.00" y1="558.60" x2="91.00" y2="568.00" stroke="#111" stroke-width="0.85" />
<line x1="92.20" y1="558.60" x2="92.20" y2="568.00" stroke="#111" stroke-width="0.85" />
<line x1="93.40" y1="558.60" x2="93.40" y2="568.00" stroke="#111" stroke-width="0.85" />
<line x1="94.60" y1="558.60" x2="94.60" y2="568.00" stroke="#111" stroke-width="0.85" />
<line x1="95.80" y1="558.60" x2="95.80" y2="568.00" stroke="#111" stroke-width="0.85" />
<line x1="97.00" y1="558.60" x2="97.00" y2="568.00" stroke="#111" stroke-width="0.85" />
<line x1="98.20" y1="558.60" x2="98.20" y2="568.00" stroke="#111" stroke-width="0.85" />
<line x1="99.40" y1="558.60" x2="99.40" y2="568.00" stroke="#111" stroke-width="0.85" />
<line x1="100.60" y1="558.60" x2="100.60" y2="568.00" stroke="#111" stroke-width="0.85" />
<line x1="101.80" y1="558.60" x2="101.80" y2="568.00" stroke="#111" stroke-width="0.85" />
<line x1="103.00" y1="558.60" x2="103.00" y2="568.00" stroke="#111" stroke-width="0.85" />
<line x1="108.50" y1="558.60" x2="108.50" y2="568.00" stroke="#111" stroke-width="0.85" />
<line x1="110.00" y1="558.60" x2="110.00" y2="568.00" stroke="#111" stroke-width="0.85" />
<line x1="111.50" y1="558.60" x2="111.50" y2="568.00" stroke="#111" stroke-width="0.85" />
<line x1="113.00" y1="558.60" x2="113.00" y2="568.00" stroke="#111" stroke-width="0.85" />
<line x1="114.50" y1="558.60" x2="114.50" y2="568.00" stroke="#111" stroke-width="0.85" />
<line x1="116.00" y1="558.60" x2="116.00" y2="568.00" stroke="#111" stroke-width="0.85" />
<line x1="117.50" y1="558.60" x2="117.50" y2="568.00" stroke="#111" stroke-width="0.85" />
<line x1="119.00" y1="558.60" x2="119.00" y2="568.00" stroke="#111" stroke-width="0.85" />
<line x1="120.50" y1="558.60" x2="120.50" y2="568.00" stroke="#111" stroke-width="0.85" />
<line x1="124.50" y1="558.60" x2="124.50" y2="568.00" stroke="#111" stroke-width="0.85" />
<line x1="126.10" y1="558.60" x2="126.10" y2="568.00" stroke="#111" stroke-width="0.85" />
<line x1="127.70" y1="558.60" x2="127.70" y2="568.00" stroke="#111" stroke-width="0.85" />
<line x1="129.30" y1="558.60" x2="129.30" y2="568.00" stroke="#111" stroke-width="0.85" />
<line x1="130.90" y1="558.60" x2="130.90" y2="568.00" stroke="#111" stroke-width="0.85" />
<line x1="132.50" y1="558.60" x2="132.50" y2="568.00" stroke="#111" stroke-width="0.85" />
<line x1="134.10" y1="558.60" x2="134.10" y2="568.00" stroke="#111" stroke-width="0.85" />
<line x1="135.70" y1="558.60" x2="135.70" y2="568.00" stroke="#111" stroke-width="0.85" />
<line x1="140.50" y1="558.60" x2="140.50" y2="568.00" stroke="#111" stroke-width="0.85" />
<line x1="141.80" y1="558.60" x2="141.80" y2="568.00" stroke="#111" stroke-width="0.85" />
<line x1="143.10" y1="558.60" x2="143.10" y2="568.00" stroke="#111" stroke-width="0.85" />
<line x1="144.40" y1="558.60" x2="144.40" y2="568.00" stroke="#111" stroke-width="0.85" />
<line x1="145.70" y1="558.60" x2="145.70" y2="568.00" stroke="#111" stroke-width="0.85" />
<line x1="147.00" y1="558.60" x2="147.00" y2="568.00" stroke="#111" stroke-width="0.85" />
<line x1="160.00" y1="558.60" x2="160.00" y2="568.00" stroke="#111" stroke-width="0.85" />
<line x1="161.30" y1="558.60" x2="161.30" y2="568.00" stroke="#111" stroke-width="0.85" />
<line x1="162.50" y1="558.60" x2="162.50" y2="568.00" stroke="#111" stroke-width="0.85" />
<line x1="164.40" y1="558.60" x2="164.40" y2="568.00" stroke="#111" stroke-width="0.85" />
<line x1="165.60" y1="558.60" x2="165.60" y2="568.00" stroke="#111" stroke-width="0.85" />
<line x1="173.10" y1="558.60" x2="173.10" y2="568.00" stroke="#111" stroke-width="0.85" />
<line x1="179.40" y1="558.60" x2="179.40" y2="568.00" stroke="#111" stroke-width="0.85" />
<line x1="181.30" y1="558.60" x2="181.30" y2="568.00" stroke="#111" stroke-width="0.85" />
<line x1="57.70" y1="564.90" x2="200.60" y2="564.90" stroke="#b5283f" stroke-width="1.0" />
<line x1="57.70" y1="563.50" x2="200.60" y2="563.50" stroke="#000" stroke-width="1.3" />
<polyline points="57.7,563.6 58.2,556.0 58.6,548.0 59.0,537.0 59.6,527.0 60.1,516.1 61.8,523.0 63.5,513.2 64.1,505.1 64.7,497.1 65.4,500.5 65.8,493.6 67.0,486.7 69.3,485.5 71.6,490.1 73.3,482.1 75.1,474.0 76.8,465.9 79.7,463.6 81.4,457.8 83.1,454.4 84.9,449.8 86.6,453.2 88.9,456.7 91.8,460.7 94.1,456.1 97.0,459.0 100.4,463.6 105.1,469.4 109.7,477.4 112.0,482.0 116.0,490.0 120.0,499.0 125.2,506.7 129.5,513.6 134.7,517.1 137.3,519.7 140.8,524.9 143.4,529.2 146.8,531.0 159.8,554.3 162.4,545.6 165.8,537.0 170.2,546.5 173.6,540.5 178.8,553.4 182.3,537.9 193.5,563.8" fill="none" stroke="#45b853" stroke-width="1.5" stroke-linejoin="round"/>
<circle cx="56.95" cy="564.00" r="1.5" fill="#3aac48" />
<circle cx="58.53" cy="562.03" r="1.5" fill="#3aac48" />
<circle cx="57.12" cy="560.77" r="1.5" fill="#3aac48" />
<circle cx="58.70" cy="560.20" r="1.5" fill="#3aac48" />
<circle cx="57.28" cy="558.23" r="1.5" fill="#3aac48" />
<circle cx="58.87" cy="556.97" r="1.5" fill="#3aac48" />
<circle cx="57.45" cy="556.40" r="1.5" fill="#3aac48" />
<circle cx="59.01" cy="554.56" r="1.5" fill="#3aac48" />
<circle cx="57.56" cy="553.41" r="1.5" fill="#3aac48" />
<circle cx="59.12" cy="552.97" r="1.5" fill="#3aac48" />
<circle cx="57.68" cy="551.13" r="1.5" fill="#3aac48" />
<circle cx="59.24" cy="549.99" r="1.5" fill="#3aac48" />
<circle cx="57.79" cy="549.54" r="1.5" fill="#3aac48" />
<circle cx="59.35" cy="547.70" r="1.5" fill="#3aac48" />
<circle cx="57.89" cy="546.60" r="1.5" fill="#3aac48" />
<circle cx="59.43" cy="546.20" r="1.5" fill="#3aac48" />
<circle cx="57.97" cy="544.40" r="1.5" fill="#3aac48" />
<circle cx="59.51" cy="543.30" r="1.5" fill="#3aac48" />
<circle cx="58.05" cy="542.90" r="1.5" fill="#3aac48" />
<circle cx="59.59" cy="541.10" r="1.5" fill="#3aac48" />
<circle cx="58.13" cy="540.00" r="1.5" fill="#3aac48" />
<circle cx="59.67" cy="539.60" r="1.5" fill="#3aac48" />
<circle cx="58.21" cy="537.80" r="1.5" fill="#3aac48" />
<circle cx="59.75" cy="536.70" r="1.5" fill="#3aac48" />
<circle cx="58.32" cy="536.29" r="1.5" fill="#3aac48" />
<circle cx="59.88" cy="534.48" r="1.5" fill="#3aac48" />
<circle cx="58.45" cy="533.37" r="1.5" fill="#3aac48" />
<circle cx="60.02" cy="532.96" r="1.5" fill="#3aac48" />
<circle cx="58.58" cy="531.14" r="1.5" fill="#3aac48" />
<circle cx="60.15" cy="530.03" r="1.5" fill="#3aac48" />
<circle cx="58.72" cy="529.62" r="1.5" fill="#3aac48" />
<circle cx="60.28" cy="527.81" r="1.5" fill="#3aac48" />
<circle cx="58.85" cy="526.70" r="1.5" fill="#3aac48" />
<circle cx="60.41" cy="526.19" r="1.5" fill="#3aac48" />
<circle cx="58.96" cy="524.28" r="1.5" fill="#3aac48" />
<circle cx="60.52" cy="523.07" r="1.5" fill="#3aac48" />
<circle cx="59.07" cy="522.56" r="1.5" fill="#3aac48" />
<circle cx="60.63" cy="520.64" r="1.5" fill="#3aac48" />
<circle cx="59.18" cy="519.43" r="1.5" fill="#3aac48" />
<circle cx="60.74" cy="518.92" r="1.5" fill="#3aac48" />
<circle cx="59.29" cy="517.01" r="1.5" fill="#3aac48" />
<circle cx="60.85" cy="515.80" r="1.5" fill="#3aac48" />
<circle cx="59.63" cy="517.65" r="1.5" fill="#3aac48" />
<circle cx="61.42" cy="518.10" r="1.5" fill="#3aac48" />
<circle cx="60.20" cy="519.25" r="1.5" fill="#3aac48" />
<circle cx="61.98" cy="521.10" r="1.5" fill="#3aac48" />
<circle cx="60.77" cy="521.55" r="1.5" fill="#3aac48" />
<circle cx="62.55" cy="522.70" r="1.5" fill="#3aac48" />
<circle cx="61.24" cy="522.31" r="1.5" fill="#3aac48" />
<circle cx="62.93" cy="520.52" r="1.5" fill="#3aac48" />
<circle cx="61.62" cy="519.43" r="1.5" fill="#3aac48" />
<circle cx="63.31" cy="519.04" r="1.5" fill="#3aac48" />
<circle cx="61.99" cy="517.26" r="1.5" fill="#3aac48" />
<circle cx="63.68" cy="516.17" r="1.5" fill="#3aac48" />
<circle cx="62.37" cy="515.78" r="1.5" fill="#3aac48" />
<circle cx="64.06" cy="513.99" r="1.5" fill="#3aac48" />
<circle cx="62.75" cy="512.90" r="1.5" fill="#3aac48" />
<circle cx="64.34" cy="512.44" r="1.5" fill="#3aac48" />
<circle cx="62.92" cy="510.59" r="1.5" fill="#3aac48" />
<circle cx="64.51" cy="509.43" r="1.5" fill="#3aac48" />
<circle cx="63.09" cy="508.97" r="1.5" fill="#3aac48" />
<circle cx="64.68" cy="507.11" r="1.5" fill="#3aac48" />
<circle cx="63.26" cy="505.96" r="1.5" fill="#3aac48" />
<circle cx="64.85" cy="505.50" r="1.5" fill="#3aac48" />
<circle cx="63.44" cy="503.66" r="1.5" fill="#3aac48" />
<circle cx="65.02" cy="502.51" r="1.5" fill="#3aac48" />
<circle cx="63.61" cy="502.07" r="1.5" fill="#3aac48" />
<circle cx="65.19" cy="500.23" r="1.5" fill="#3aac48" />
<circle cx="63.78" cy="499.09" r="1.5" fill="#3aac48" />
<circle cx="65.36" cy="498.64" r="1.5" fill="#3aac48" />
<circle cx="63.95" cy="496.80" r="1.5" fill="#3aac48" />
<circle cx="65.68" cy="497.93" r="1.5" fill="#3aac48" />
<circle cx="64.42" cy="499.77" r="1.5" fill="#3aac48" />
<circle cx="66.15" cy="500.20" r="1.5" fill="#3aac48" />
<circle cx="64.72" cy="499.05" r="1.5" fill="#3aac48" />
<circle cx="66.28" cy="498.60" r="1.5" fill="#3aac48" />
<circle cx="64.85" cy="496.75" r="1.5" fill="#3aac48" />
<circle cx="66.42" cy="495.60" r="1.5" fill="#3aac48" />
<circle cx="64.98" cy="495.15" r="1.5" fill="#3aac48" />
<circle cx="66.55" cy="493.30" r="1.5" fill="#3aac48" />
<circle cx="65.25" cy="492.15" r="1.5" fill="#3aac48" />
<circle cx="66.95" cy="491.70" r="1.5" fill="#3aac48" />
<circle cx="65.65" cy="489.85" r="1.5" fill="#3aac48" />
<circle cx="67.35" cy="488.70" r="1.5" fill="#3aac48" />
<circle cx="66.05" cy="488.25" r="1.5" fill="#3aac48" />
<circle cx="67.75" cy="486.40" r="1.5" fill="#3aac48" />
<circle cx="67.40" cy="485.80" r="1.5" fill="#3aac48" />
<circle cx="70.05" cy="485.90" r="1.5" fill="#3aac48" />
<circle cx="69.12" cy="486.35" r="1.5" fill="#3aac48" />
<circle cx="71.20" cy="487.50" r="1.5" fill="#3aac48" />
<circle cx="70.27" cy="489.35" r="1.5" fill="#3aac48" />
<circle cx="72.35" cy="489.80" r="1.5" fill="#3aac48" />
<circle cx="71.09" cy="488.66" r="1.5" fill="#3aac48" />
<circle cx="72.84" cy="488.21" r="1.5" fill="#3aac48" />
<circle cx="71.58" cy="486.37" r="1.5" fill="#3aac48" />
<circle cx="73.32" cy="485.23" r="1.5" fill="#3aac48" />
<circle cx="72.06" cy="484.79" r="1.5" fill="#3aac48" />
<circle cx="73.81" cy="482.94" r="1.5" fill="#3aac48" />
<circle cx="72.55" cy="481.80" r="1.5" fill="#3aac48" />
<circle cx="74.31" cy="481.34" r="1.5" fill="#3aac48" />
<circle cx="73.06" cy="479.49" r="1.5" fill="#3aac48" />
<circle cx="74.82" cy="478.33" r="1.5" fill="#3aac48" />
<circle cx="73.58" cy="477.87" r="1.5" fill="#3aac48" />
<circle cx="75.34" cy="476.01" r="1.5" fill="#3aac48" />
<circle cx="74.09" cy="474.86" r="1.5" fill="#3aac48" />
<circle cx="75.85" cy="474.40" r="1.5" fill="#3aac48" />
<circle cx="74.59" cy="472.54" r="1.5" fill="#3aac48" />
<circle cx="76.34" cy="471.39" r="1.5" fill="#3aac48" />
<circle cx="75.08" cy="470.93" r="1.5" fill="#3aac48" />
<circle cx="76.82" cy="469.07" r="1.5" fill="#3aac48" />
<circle cx="75.56" cy="467.91" r="1.5" fill="#3aac48" />
<circle cx="77.31" cy="467.46" r="1.5" fill="#3aac48" />
<circle cx="76.05" cy="465.60" r="1.5" fill="#3aac48" />
<circle cx="78.52" cy="464.83" r="1.5" fill="#3aac48" />
<circle cx="77.98" cy="464.77" r="1.5" fill="#3aac48" />
<circle cx="80.45" cy="463.30" r="1.5" fill="#3aac48" />
<circle cx="79.29" cy="462.14" r="1.5" fill="#3aac48" />
<circle cx="81.13" cy="461.68" r="1.5" fill="#3aac48" />
<circle cx="79.97" cy="459.82" r="1.5" fill="#3aac48" />
<circle cx="81.81" cy="458.66" r="1.5" fill="#3aac48" />
<circle cx="80.65" cy="458.20" r="1.5" fill="#3aac48" />
<circle cx="82.72" cy="456.37" r="1.5" fill="#3aac48" />
<circle cx="81.78" cy="455.23" r="1.5" fill="#3aac48" />
<circle cx="83.85" cy="454.80" r="1.5" fill="#3aac48" />
<circle cx="82.80" cy="452.95" r="1.5" fill="#3aac48" />
<circle cx="84.75" cy="451.80" r="1.5" fill="#3aac48" />
<circle cx="83.70" cy="451.35" r="1.5" fill="#3aac48" />
<circle cx="85.65" cy="449.50" r="1.5" fill="#3aac48" />
<circle cx="85.80" cy="451.46" r="1.45" fill="#3aac48" />
<circle cx="87.30" cy="453.99" r="1.45" fill="#3aac48" />
<circle cx="91.00" cy="459.72" r="1.45" fill="#3aac48" />
<circle cx="92.20" cy="459.56" r="1.45" fill="#3aac48" />
<circle cx="93.40" cy="457.53" r="1.45" fill="#3aac48" />
<circle cx="94.60" cy="456.49" r="1.45" fill="#3aac48" />
<circle cx="95.80" cy="457.45" r="1.45" fill="#3aac48" />
<circle cx="97.00" cy="459.01" r="1.45" fill="#3aac48" />
<circle cx="98.20" cy="460.25" r="1.45" fill="#3aac48" />
<circle cx="99.40" cy="462.19" r="1.45" fill="#3aac48" />
<circle cx="100.60" cy="463.50" r="1.45" fill="#3aac48" />
<circle cx="101.80" cy="465.00" r="1.45" fill="#3aac48" />
<circle cx="103.00" cy="466.75" r="1.45" fill="#3aac48" />
<circle cx="108.50" cy="475.57" r="1.45" fill="#3aac48" />
<circle cx="110.00" cy="477.70" r="1.45" fill="#3aac48" />
<circle cx="111.50" cy="480.78" r="1.45" fill="#3aac48" />
<circle cx="113.00" cy="484.10" r="1.45" fill="#3aac48" />
<circle cx="114.50" cy="487.36" r="1.45" fill="#3aac48" />
<circle cx="116.00" cy="490.06" r="1.45" fill="#3aac48" />
<circle cx="117.50" cy="493.29" r="1.45" fill="#3aac48" />
<circle cx="119.00" cy="497.13" r="1.45" fill="#3aac48" />
<circle cx="120.50" cy="499.38" r="1.45" fill="#3aac48" />
<circle cx="124.50" cy="505.95" r="1.45" fill="#3aac48" />
<circle cx="126.10" cy="507.98" r="1.45" fill="#3aac48" />
<circle cx="127.70" cy="510.43" r="1.45" fill="#3aac48" />
<circle cx="129.30" cy="512.97" r="1.45" fill="#3aac48" />
<circle cx="130.90" cy="514.39" r="1.45" fill="#3aac48" />
<circle cx="132.50" cy="515.87" r="1.45" fill="#3aac48" />
<circle cx="134.10" cy="516.44" r="1.45" fill="#3aac48" />
<circle cx="135.70" cy="518.17" r="1.45" fill="#3aac48" />
<circle cx="140.50" cy="524.57" r="1.45" fill="#3aac48" />
<circle cx="141.80" cy="526.45" r="1.45" fill="#3aac48" />
<circle cx="143.10" cy="528.74" r="1.45" fill="#3aac48" />
<circle cx="144.40" cy="529.38" r="1.45" fill="#3aac48" />
<circle cx="145.70" cy="530.07" r="1.45" fill="#3aac48" />
<circle cx="147.00" cy="531.12" r="1.45" fill="#3aac48" />
<circle cx="160.00" cy="553.78" r="1.45" fill="#3aac48" />
<circle cx="161.30" cy="549.22" r="1.45" fill="#3aac48" />
<circle cx="162.50" cy="545.20" r="1.45" fill="#3aac48" />
<circle cx="164.40" cy="540.61" r="1.45" fill="#3aac48" />
<circle cx="165.60" cy="537.47" r="1.45" fill="#3aac48" />
<circle cx="173.10" cy="541.22" r="1.45" fill="#3aac48" />
<circle cx="179.40" cy="550.98" r="1.45" fill="#3aac48" />
<circle cx="181.30" cy="542.49" r="1.45" fill="#3aac48" />
<circle cx="86.60" cy="453.20" r="1.45" fill="#3aac48" />
<circle cx="88.90" cy="456.70" r="1.45" fill="#3aac48" />
<circle cx="91.80" cy="460.70" r="1.45" fill="#3aac48" />
<circle cx="94.10" cy="456.10" r="1.45" fill="#3aac48" />
<circle cx="97.00" cy="459.00" r="1.45" fill="#3aac48" />
<circle cx="100.40" cy="463.60" r="1.45" fill="#3aac48" />
<circle cx="105.10" cy="469.40" r="1.45" fill="#3aac48" />
<circle cx="109.70" cy="477.40" r="1.45" fill="#3aac48" />
<circle cx="112.00" cy="482.00" r="1.45" fill="#3aac48" />
<circle cx="116.00" cy="490.00" r="1.45" fill="#3aac48" />
<circle cx="120.00" cy="499.00" r="1.45" fill="#3aac48" />
<circle cx="125.20" cy="506.70" r="1.45" fill="#3aac48" />
<circle cx="129.50" cy="513.60" r="1.45" fill="#3aac48" />
<circle cx="134.70" cy="517.10" r="1.45" fill="#3aac48" />
<circle cx="137.30" cy="519.70" r="1.45" fill="#3aac48" />
<circle cx="140.80" cy="524.90" r="1.45" fill="#3aac48" />
<circle cx="143.40" cy="529.20" r="1.45" fill="#3aac48" />
<circle cx="146.80" cy="531.00" r="1.45" fill="#3aac48" />
<circle cx="159.80" cy="554.30" r="1.45" fill="#3aac48" />
<circle cx="162.40" cy="545.60" r="1.45" fill="#3aac48" />
<circle cx="165.80" cy="537.00" r="1.45" fill="#3aac48" />
<circle cx="170.20" cy="546.50" r="1.45" fill="#3aac48" />
<circle cx="173.60" cy="540.50" r="1.45" fill="#3aac48" />
<circle cx="178.80" cy="553.40" r="1.45" fill="#3aac48" />
<circle cx="182.30" cy="537.90" r="1.45" fill="#3aac48" />
<circle cx="193.50" cy="563.80" r="1.45" fill="#3aac48" />
<text x="149.50" y="471.20" font-size="12" text-anchor="start" font-weight="normal" fill="#1c1c1c" stroke="#1c1c1c" stroke-width="0.12" textLength="43.6" lengthAdjust="spacingAndGlyphs" >NES 1.6</text>
<text x="149.50" y="485.30" font-size="12" text-anchor="start" font-weight="normal" fill="#1c1c1c" stroke="#1c1c1c" stroke-width="0.12" textLength="61.0" lengthAdjust="spacingAndGlyphs" >padj. 0.033</text>
<text x="149.50" y="499.40" font-size="12" text-anchor="start" font-weight="normal" fill="#1c1c1c" stroke="#1c1c1c" stroke-width="0.12" textLength="80.5" lengthAdjust="spacingAndGlyphs" >p-value 0.0014</text>
<line x1="341.10" y1="445.20" x2="341.10" y2="580.60" stroke="#000" stroke-width="1.35" />
<line x1="340.45" y1="579.90" x2="490.60" y2="579.90" stroke="#000" stroke-width="1.35" />
<line x1="336.30" y1="563.60" x2="341.10" y2="563.60" stroke="#000" stroke-width="1.35" />
<text x="314.60" y="568.10" font-size="12.2" text-anchor="start" font-weight="normal" fill="#1c1c1c" stroke="#1c1c1c" stroke-width="0.12" textLength="15.9" lengthAdjust="spacingAndGlyphs" >0.0</text>
<line x1="336.30" y1="535.50" x2="341.10" y2="535.50" stroke="#000" stroke-width="1.35" />
<text x="314.60" y="540.00" font-size="12.2" text-anchor="start" font-weight="normal" fill="#1c1c1c" stroke="#1c1c1c" stroke-width="0.12" textLength="15.9" lengthAdjust="spacingAndGlyphs" >0.1</text>
<line x1="336.30" y1="507.40" x2="341.10" y2="507.40" stroke="#000" stroke-width="1.35" />
<text x="314.60" y="511.90" font-size="12.2" text-anchor="start" font-weight="normal" fill="#1c1c1c" stroke="#1c1c1c" stroke-width="0.12" textLength="15.9" lengthAdjust="spacingAndGlyphs" >0.2</text>
<line x1="336.30" y1="479.30" x2="341.10" y2="479.30" stroke="#000" stroke-width="1.35" />
<text x="314.60" y="483.80" font-size="12.2" text-anchor="start" font-weight="normal" fill="#1c1c1c" stroke="#1c1c1c" stroke-width="0.12" textLength="15.9" lengthAdjust="spacingAndGlyphs" >0.3</text>
<line x1="336.30" y1="451.20" x2="341.10" y2="451.20" stroke="#000" stroke-width="1.35" />
<text x="314.60" y="455.70" font-size="12.2" text-anchor="start" font-weight="normal" fill="#1c1c1c" stroke="#1c1c1c" stroke-width="0.12" textLength="15.9" lengthAdjust="spacingAndGlyphs" >0.4</text>
<line x1="347.70" y1="579.90" x2="347.70" y2="584.60" stroke="#000" stroke-width="1.35" />
<text x="347.70" y="599.40" font-size="12.2" text-anchor="middle" font-weight="normal" fill="#1c1c1c" stroke="#1c1c1c" stroke-width="0.12" textLength="6.7" lengthAdjust="spacingAndGlyphs" >0</text>
<line x1="387.85" y1="579.90" x2="387.85" y2="584.60" stroke="#000" stroke-width="1.35" />
<text x="387.85" y="599.40" font-size="12.2" text-anchor="middle" font-weight="normal" fill="#1c1c1c" stroke="#1c1c1c" stroke-width="0.12" textLength="26.8" lengthAdjust="spacingAndGlyphs" >1000</text>
<line x1="428.00" y1="579.90" x2="428.00" y2="584.60" stroke="#000" stroke-width="1.35" />
<text x="428.00" y="599.40" font-size="12.2" text-anchor="middle" font-weight="normal" fill="#1c1c1c" stroke="#1c1c1c" stroke-width="0.12" textLength="26.8" lengthAdjust="spacingAndGlyphs" >2000</text>
<line x1="468.15" y1="579.90" x2="468.15" y2="584.60" stroke="#000" stroke-width="1.35" />
<text x="468.15" y="599.40" font-size="12.2" text-anchor="middle" font-weight="normal" fill="#1c1c1c" stroke="#1c1c1c" stroke-width="0.12" textLength="26.8" lengthAdjust="spacingAndGlyphs" >3000</text>
<text x="304.60" y="598.80" font-size="12" text-anchor="start" font-weight="normal" fill="#1c1c1c" stroke="#1c1c1c" stroke-width="0.12" textLength="26.0" lengthAdjust="spacingAndGlyphs" >Rank</text>
<text transform="translate(304.70,512.90) rotate(-90)" font-size="14" text-anchor="middle" fill="#1c1c1c" stroke="#1c1c1c" stroke-width="0.12" textLength="87.2" lengthAdjust="spacingAndGlyphs">Enrichment score</text>
<text x="330.80" y="435.10" font-size="13.5" text-anchor="start" font-weight="normal" fill="#1c1c1c" stroke="#1c1c1c" stroke-width="0.12" textLength="166.6" lengthAdjust="spacingAndGlyphs" >MAPK1/MAPK3 signaling</text>
<line x1="342.10" y1="455.40" x2="490.60" y2="455.40" stroke="#b23d52" stroke-width="1.35" stroke-dasharray="4.6 3.6"/>
<line x1="351.90" y1="558.60" x2="351.90" y2="568.00" stroke="#111" stroke-width="0.85" />
<line x1="353.40" y1="558.60" x2="353.40" y2="568.00" stroke="#111" stroke-width="0.85" />
<line x1="354.90" y1="558.60" x2="354.90" y2="568.00" stroke="#111" stroke-width="0.85" />
<line x1="356.40" y1="558.60" x2="356.40" y2="568.00" stroke="#111" stroke-width="0.85" />
<line x1="357.90" y1="558.60" x2="357.90" y2="568.00" stroke="#111" stroke-width="0.85" />
<line x1="359.40" y1="558.60" x2="359.40" y2="568.00" stroke="#111" stroke-width="0.85" />
<line x1="360.90" y1="558.60" x2="360.90" y2="568.00" stroke="#111" stroke-width="0.85" />
<line x1="362.40" y1="558.60" x2="362.40" y2="568.00" stroke="#111" stroke-width="0.85" />
<line x1="363.90" y1="558.60" x2="363.90" y2="568.00" stroke="#111" stroke-width="0.85" />
<line x1="365.40" y1="558.60" x2="365.40" y2="568.00" stroke="#111" stroke-width="0.85" />
<line x1="366.90" y1="558.60" x2="366.90" y2="568.00" stroke="#111" stroke-width="0.85" />
<line x1="368.40" y1="558.60" x2="368.40" y2="568.00" stroke="#111" stroke-width="0.85" />
<line x1="369.90" y1="558.60" x2="369.90" y2="568.00" stroke="#111" stroke-width="0.85" />
<line x1="371.40" y1="558.60" x2="371.40" y2="568.00" stroke="#111" stroke-width="0.85" />
<line x1="372.90" y1="558.60" x2="372.90" y2="568.00" stroke="#111" stroke-width="0.85" />
<line x1="374.40" y1="558.60" x2="374.40" y2="568.00" stroke="#111" stroke-width="0.85" />
<line x1="379.80" y1="558.60" x2="379.80" y2="568.00" stroke="#111" stroke-width="0.85" />
<line x1="381.30" y1="558.60" x2="381.30" y2="568.00" stroke="#111" stroke-width="0.85" />
<line x1="382.80" y1="558.60" x2="382.80" y2="568.00" stroke="#111" stroke-width="0.85" />
<line x1="384.30" y1="558.60" x2="384.30" y2="568.00" stroke="#111" stroke-width="0.85" />
<line x1="385.80" y1="558.60" x2="385.80" y2="568.00" stroke="#111" stroke-width="0.85" />
<line x1="387.30" y1="558.60" x2="387.30" y2="568.00" stroke="#111" stroke-width="0.85" />
<line x1="388.80" y1="558.60" x2="388.80" y2="568.00" stroke="#111" stroke-width="0.85" />
<line x1="390.30" y1="558.60" x2="390.30" y2="568.00" stroke="#111" stroke-width="0.85" />
<line x1="391.80" y1="558.60" x2="391.80" y2="568.00" stroke="#111" stroke-width="0.85" />
<line x1="393.30" y1="558.60" x2="393.30" y2="568.00" stroke="#111" stroke-width="0.85" />
<line x1="394.80" y1="558.60" x2="394.80" y2="568.00" stroke="#111" stroke-width="0.85" />
<line x1="398.20" y1="558.60" x2="398.20" y2="568.00" stroke="#111" stroke-width="0.85" />
<line x1="399.50" y1="558.60" x2="399.50" y2="568.00" stroke="#111" stroke-width="0.85" />
<line x1="403.60" y1="558.60" x2="403.60" y2="568.00" stroke="#111" stroke-width="0.85" />
<line x1="405.10" y1="558.60" x2="405.10" y2="568.00" stroke="#111" stroke-width="0.85" />
<line x1="406.60" y1="558.60" x2="406.60" y2="568.00" stroke="#111" stroke-width="0.85" />
<line x1="408.10" y1="558.60" x2="408.10" y2="568.00" stroke="#111" stroke-width="0.85" />
<line x1="409.60" y1="558.60" x2="409.60" y2="568.00" stroke="#111" stroke-width="0.85" />
<line x1="411.10" y1="558.60" x2="411.10" y2="568.00" stroke="#111" stroke-width="0.85" />
<line x1="412.60" y1="558.60" x2="412.60" y2="568.00" stroke="#111" stroke-width="0.85" />
<line x1="414.10" y1="558.60" x2="414.10" y2="568.00" stroke="#111" stroke-width="0.85" />
<line x1="415.60" y1="558.60" x2="415.60" y2="568.00" stroke="#111" stroke-width="0.85" />
<line x1="417.10" y1="558.60" x2="417.10" y2="568.00" stroke="#111" stroke-width="0.85" />
<line x1="418.60" y1="558.60" x2="418.60" y2="568.00" stroke="#111" stroke-width="0.85" />
<line x1="420.10" y1="558.60" x2="420.10" y2="568.00" stroke="#111" stroke-width="0.85" />
<line x1="421.60" y1="558.60" x2="421.60" y2="568.00" stroke="#111" stroke-width="0.85" />
<line x1="423.10" y1="558.60" x2="423.10" y2="568.00" stroke="#111" stroke-width="0.85" />
<line x1="424.60" y1="558.60" x2="424.60" y2="568.00" stroke="#111" stroke-width="0.85" />
<line x1="426.10" y1="558.60" x2="426.10" y2="568.00" stroke="#111" stroke-width="0.85" />
<line x1="427.60" y1="558.60" x2="427.60" y2="568.00" stroke="#111" stroke-width="0.85" />
<line x1="429.10" y1="558.60" x2="429.10" y2="568.00" stroke="#111" stroke-width="0.85" />
<line x1="430.60" y1="558.60" x2="430.60" y2="568.00" stroke="#111" stroke-width="0.85" />
<line x1="432.10" y1="558.60" x2="432.10" y2="568.00" stroke="#111" stroke-width="0.85" />
<line x1="433.60" y1="558.60" x2="433.60" y2="568.00" stroke="#111" stroke-width="0.85" />
<line x1="435.10" y1="558.60" x2="435.10" y2="568.00" stroke="#111" stroke-width="0.85" />
<line x1="449.50" y1="558.60" x2="449.50" y2="568.00" stroke="#111" stroke-width="0.85" />
<line x1="450.60" y1="558.60" x2="450.60" y2="568.00" stroke="#111" stroke-width="0.85" />
<line x1="451.80" y1="558.60" x2="451.80" y2="568.00" stroke="#111" stroke-width="0.85" />
<line x1="453.00" y1="558.60" x2="453.00" y2="568.00" stroke="#111" stroke-width="0.85" />
<line x1="460.50" y1="558.60" x2="460.50" y2="568.00" stroke="#111" stroke-width="0.85" />
<line x1="462.50" y1="558.60" x2="462.50" y2="568.00" stroke="#111" stroke-width="0.85" />
<line x1="470.30" y1="558.60" x2="470.30" y2="568.00" stroke="#111" stroke-width="0.85" />
<line x1="471.80" y1="558.60" x2="471.80" y2="568.00" stroke="#111" stroke-width="0.85" />
<line x1="347.70" y1="564.90" x2="490.60" y2="564.90" stroke="#b5283f" stroke-width="1.0" />
<line x1="347.70" y1="563.50" x2="490.60" y2="563.50" stroke="#000" stroke-width="1.3" />
<polyline points="347.7,563.6 348.3,566.0 348.6,550.0 348.9,535.4 349.5,527.0 350.1,512.6 353.0,519.5 353.5,509.7 354.7,501.7 355.8,506.3 356.4,495.9 357.6,490.1 359.3,487.8 360.5,494.7 363.3,493.6 364.5,483.2 366.2,475.1 369.1,471.7 371.4,464.8 373.1,459.0 374.9,455.5 377.8,461.3 380.6,465.9 382.9,463.6 384.1,457.8 387.6,461.9 391.6,468.2 398.5,478.6 402.0,485.0 406.0,492.5 410.0,500.3 414.2,507.7 419.5,516.2 425.9,520.4 431.2,526.7 435.4,534.1 449.1,559.5 451.3,550.0 455.5,539.4 459.7,547.9 462.9,542.6 468.2,554.2 471.8,537.7 483.0,561.6" fill="none" stroke="#45b853" stroke-width="1.5" stroke-linejoin="round"/>
<circle cx="346.95" cy="564.00" r="1.5" fill="#3aac48" />
<circle cx="348.75" cy="564.50" r="1.5" fill="#3aac48" />
<circle cx="347.55" cy="565.70" r="1.5" fill="#3aac48" />
<circle cx="349.07" cy="565.26" r="1.5" fill="#3aac48" />
<circle cx="347.59" cy="563.41" r="1.5" fill="#3aac48" />
<circle cx="349.11" cy="562.27" r="1.5" fill="#3aac48" />
<circle cx="347.64" cy="561.83" r="1.5" fill="#3aac48" />
<circle cx="349.16" cy="559.99" r="1.5" fill="#3aac48" />
<circle cx="347.68" cy="558.84" r="1.5" fill="#3aac48" />
<circle cx="349.20" cy="558.40" r="1.5" fill="#3aac48" />
<circle cx="347.72" cy="556.56" r="1.5" fill="#3aac48" />
<circle cx="349.24" cy="555.41" r="1.5" fill="#3aac48" />
<circle cx="347.76" cy="554.97" r="1.5" fill="#3aac48" />
<circle cx="349.29" cy="553.13" r="1.5" fill="#3aac48" />
<circle cx="347.81" cy="551.99" r="1.5" fill="#3aac48" />
<circle cx="349.33" cy="551.54" r="1.5" fill="#3aac48" />
<circle cx="347.85" cy="549.70" r="1.5" fill="#3aac48" />
<circle cx="349.37" cy="548.58" r="1.5" fill="#3aac48" />
<circle cx="347.90" cy="548.15" r="1.5" fill="#3aac48" />
<circle cx="349.42" cy="546.33" r="1.5" fill="#3aac48" />
<circle cx="347.94" cy="545.21" r="1.5" fill="#3aac48" />
<circle cx="349.47" cy="544.78" r="1.5" fill="#3aac48" />
<circle cx="347.99" cy="542.96" r="1.5" fill="#3aac48" />
<circle cx="349.51" cy="541.84" r="1.5" fill="#3aac48" />
<circle cx="348.03" cy="541.42" r="1.5" fill="#3aac48" />
<circle cx="349.56" cy="539.59" r="1.5" fill="#3aac48" />
<circle cx="348.08" cy="538.47" r="1.5" fill="#3aac48" />
<circle cx="349.60" cy="538.05" r="1.5" fill="#3aac48" />
<circle cx="348.13" cy="536.22" r="1.5" fill="#3aac48" />
<circle cx="349.65" cy="535.10" r="1.5" fill="#3aac48" />
<circle cx="348.24" cy="534.60" r="1.5" fill="#3aac48" />
<circle cx="349.82" cy="532.70" r="1.5" fill="#3aac48" />
<circle cx="348.41" cy="531.50" r="1.5" fill="#3aac48" />
<circle cx="349.99" cy="531.00" r="1.5" fill="#3aac48" />
<circle cx="348.58" cy="529.10" r="1.5" fill="#3aac48" />
<circle cx="350.16" cy="527.90" r="1.5" fill="#3aac48" />
<circle cx="348.75" cy="527.40" r="1.5" fill="#3aac48" />
<circle cx="350.30" cy="525.59" r="1.5" fill="#3aac48" />
<circle cx="348.84" cy="524.48" r="1.5" fill="#3aac48" />
<circle cx="350.39" cy="524.08" r="1.5" fill="#3aac48" />
<circle cx="348.93" cy="522.27" r="1.5" fill="#3aac48" />
<circle cx="350.48" cy="521.16" r="1.5" fill="#3aac48" />
<circle cx="349.03" cy="520.75" r="1.5" fill="#3aac48" />
<circle cx="350.57" cy="518.95" r="1.5" fill="#3aac48" />
<circle cx="349.12" cy="517.84" r="1.5" fill="#3aac48" />
<circle cx="350.67" cy="517.43" r="1.5" fill="#3aac48" />
<circle cx="349.21" cy="515.62" r="1.5" fill="#3aac48" />
<circle cx="350.76" cy="514.52" r="1.5" fill="#3aac48" />
<circle cx="349.30" cy="514.11" r="1.5" fill="#3aac48" />
<circle cx="350.85" cy="512.30" r="1.5" fill="#3aac48" />
<circle cx="349.83" cy="513.45" r="1.5" fill="#3aac48" />
<circle cx="351.82" cy="515.30" r="1.5" fill="#3aac48" />
<circle cx="350.80" cy="515.75" r="1.5" fill="#3aac48" />
<circle cx="352.78" cy="516.90" r="1.5" fill="#3aac48" />
<circle cx="351.77" cy="518.75" r="1.5" fill="#3aac48" />
<circle cx="353.75" cy="519.20" r="1.5" fill="#3aac48" />
<circle cx="352.31" cy="517.98" r="1.5" fill="#3aac48" />
<circle cx="353.88" cy="517.45" r="1.5" fill="#3aac48" />
<circle cx="352.44" cy="515.53" r="1.5" fill="#3aac48" />
<circle cx="354.00" cy="514.30" r="1.5" fill="#3aac48" />
<circle cx="352.56" cy="513.77" r="1.5" fill="#3aac48" />
<circle cx="354.12" cy="511.85" r="1.5" fill="#3aac48" />
<circle cx="352.69" cy="510.62" r="1.5" fill="#3aac48" />
<circle cx="354.25" cy="510.10" r="1.5" fill="#3aac48" />
<circle cx="352.92" cy="508.26" r="1.5" fill="#3aac48" />
<circle cx="354.59" cy="507.11" r="1.5" fill="#3aac48" />
<circle cx="353.26" cy="506.67" r="1.5" fill="#3aac48" />
<circle cx="354.94" cy="504.83" r="1.5" fill="#3aac48" />
<circle cx="353.61" cy="503.69" r="1.5" fill="#3aac48" />
<circle cx="355.28" cy="503.24" r="1.5" fill="#3aac48" />
<circle cx="353.95" cy="501.40" r="1.5" fill="#3aac48" />
<circle cx="355.73" cy="502.55" r="1.5" fill="#3aac48" />
<circle cx="354.50" cy="504.40" r="1.5" fill="#3aac48" />
<circle cx="356.27" cy="504.85" r="1.5" fill="#3aac48" />
<circle cx="355.05" cy="506.00" r="1.5" fill="#3aac48" />
<circle cx="356.62" cy="505.54" r="1.5" fill="#3aac48" />
<circle cx="355.18" cy="503.69" r="1.5" fill="#3aac48" />
<circle cx="356.75" cy="502.53" r="1.5" fill="#3aac48" />
<circle cx="355.32" cy="502.08" r="1.5" fill="#3aac48" />
<circle cx="356.88" cy="500.22" r="1.5" fill="#3aac48" />
<circle cx="355.45" cy="499.07" r="1.5" fill="#3aac48" />
<circle cx="357.02" cy="498.61" r="1.5" fill="#3aac48" />
<circle cx="355.58" cy="496.76" r="1.5" fill="#3aac48" />
<circle cx="357.15" cy="495.60" r="1.5" fill="#3aac48" />
<circle cx="355.89" cy="495.14" r="1.5" fill="#3aac48" />
<circle cx="357.63" cy="493.28" r="1.5" fill="#3aac48" />
<circle cx="356.37" cy="492.12" r="1.5" fill="#3aac48" />
<circle cx="358.11" cy="491.66" r="1.5" fill="#3aac48" />
<circle cx="356.85" cy="489.80" r="1.5" fill="#3aac48" />
<circle cx="359.20" cy="488.65" r="1.5" fill="#3aac48" />
<circle cx="358.55" cy="488.20" r="1.5" fill="#3aac48" />
<circle cx="360.25" cy="488.65" r="1.5" fill="#3aac48" />
<circle cx="358.95" cy="489.80" r="1.5" fill="#3aac48" />
<circle cx="360.65" cy="491.65" r="1.5" fill="#3aac48" />
<circle cx="359.35" cy="492.10" r="1.5" fill="#3aac48" />
<circle cx="361.05" cy="493.25" r="1.5" fill="#3aac48" />
<circle cx="359.75" cy="495.10" r="1.5" fill="#3aac48" />
<circle cx="362.65" cy="493.85" r="1.5" fill="#3aac48" />
<circle cx="362.55" cy="493.30" r="1.5" fill="#3aac48" />
<circle cx="364.18" cy="492.84" r="1.5" fill="#3aac48" />
<circle cx="362.82" cy="490.99" r="1.5" fill="#3aac48" />
<circle cx="364.45" cy="489.83" r="1.5" fill="#3aac48" />
<circle cx="363.08" cy="489.38" r="1.5" fill="#3aac48" />
<circle cx="364.72" cy="487.52" r="1.5" fill="#3aac48" />
<circle cx="363.35" cy="486.37" r="1.5" fill="#3aac48" />
<circle cx="364.98" cy="485.91" r="1.5" fill="#3aac48" />
<circle cx="363.62" cy="484.06" r="1.5" fill="#3aac48" />
<circle cx="365.25" cy="482.90" r="1.5" fill="#3aac48" />
<circle cx="363.99" cy="482.44" r="1.5" fill="#3aac48" />
<circle cx="365.74" cy="480.59" r="1.5" fill="#3aac48" />
<circle cx="364.48" cy="479.43" r="1.5" fill="#3aac48" />
<circle cx="366.22" cy="478.97" r="1.5" fill="#3aac48" />
<circle cx="364.96" cy="477.11" r="1.5" fill="#3aac48" />
<circle cx="366.71" cy="475.96" r="1.5" fill="#3aac48" />
<circle cx="365.45" cy="475.50" r="1.5" fill="#3aac48" />
<circle cx="367.68" cy="473.95" r="1.5" fill="#3aac48" />
<circle cx="366.90" cy="473.10" r="1.5" fill="#3aac48" />
<circle cx="369.12" cy="472.95" r="1.5" fill="#3aac48" />
<circle cx="368.35" cy="471.40" r="1.5" fill="#3aac48" />
<circle cx="370.23" cy="470.25" r="1.5" fill="#3aac48" />
<circle cx="369.12" cy="469.80" r="1.5" fill="#3aac48" />
<circle cx="371.00" cy="467.95" r="1.5" fill="#3aac48" />
<circle cx="369.88" cy="466.80" r="1.5" fill="#3aac48" />
<circle cx="371.77" cy="466.35" r="1.5" fill="#3aac48" />
<circle cx="370.65" cy="464.50" r="1.5" fill="#3aac48" />
<circle cx="372.49" cy="463.34" r="1.5" fill="#3aac48" />
<circle cx="371.33" cy="462.88" r="1.5" fill="#3aac48" />
<circle cx="373.17" cy="461.02" r="1.5" fill="#3aac48" />
<circle cx="372.01" cy="459.86" r="1.5" fill="#3aac48" />
<circle cx="373.85" cy="459.40" r="1.5" fill="#3aac48" />
<circle cx="372.95" cy="457.53" r="1.5" fill="#3aac48" />
<circle cx="375.05" cy="456.37" r="1.5" fill="#3aac48" />
<circle cx="374.15" cy="455.90" r="1.5" fill="#3aac48" />
<circle cx="379.80" cy="464.44" r="1.45" fill="#3aac48" />
<circle cx="381.30" cy="464.92" r="1.45" fill="#3aac48" />
<circle cx="382.80" cy="463.82" r="1.45" fill="#3aac48" />
<circle cx="384.30" cy="457.69" r="1.45" fill="#3aac48" />
<circle cx="385.80" cy="459.82" r="1.45" fill="#3aac48" />
<circle cx="387.30" cy="461.44" r="1.45" fill="#3aac48" />
<circle cx="388.80" cy="463.44" r="1.45" fill="#3aac48" />
<circle cx="390.30" cy="466.16" r="1.45" fill="#3aac48" />
<circle cx="391.80" cy="468.13" r="1.45" fill="#3aac48" />
<circle cx="393.30" cy="470.71" r="1.45" fill="#3aac48" />
<circle cx="394.80" cy="472.68" r="1.45" fill="#3aac48" />
<circle cx="398.20" cy="477.82" r="1.45" fill="#3aac48" />
<circle cx="399.50" cy="480.37" r="1.45" fill="#3aac48" />
<circle cx="403.60" cy="488.26" r="1.45" fill="#3aac48" />
<circle cx="405.10" cy="490.51" r="1.45" fill="#3aac48" />
<circle cx="406.60" cy="493.45" r="1.45" fill="#3aac48" />
<circle cx="408.10" cy="496.70" r="1.45" fill="#3aac48" />
<circle cx="409.60" cy="499.88" r="1.45" fill="#3aac48" />
<circle cx="411.10" cy="502.30" r="1.45" fill="#3aac48" />
<circle cx="412.60" cy="504.80" r="1.45" fill="#3aac48" />
<circle cx="414.10" cy="507.90" r="1.45" fill="#3aac48" />
<circle cx="415.60" cy="509.58" r="1.45" fill="#3aac48" />
<circle cx="417.10" cy="512.64" r="1.45" fill="#3aac48" />
<circle cx="418.60" cy="514.59" r="1.45" fill="#3aac48" />
<circle cx="420.10" cy="516.31" r="1.45" fill="#3aac48" />
<circle cx="421.60" cy="517.27" r="1.45" fill="#3aac48" />
<circle cx="423.10" cy="518.41" r="1.45" fill="#3aac48" />
<circle cx="424.60" cy="519.80" r="1.45" fill="#3aac48" />
<circle cx="426.10" cy="520.38" r="1.45" fill="#3aac48" />
<circle cx="427.60" cy="522.49" r="1.45" fill="#3aac48" />
<circle cx="429.10" cy="524.31" r="1.45" fill="#3aac48" />
<circle cx="430.60" cy="525.88" r="1.45" fill="#3aac48" />
<circle cx="432.10" cy="528.32" r="1.45" fill="#3aac48" />
<circle cx="433.60" cy="530.58" r="1.45" fill="#3aac48" />
<circle cx="435.10" cy="533.22" r="1.45" fill="#3aac48" />
<circle cx="449.50" cy="557.54" r="1.45" fill="#3aac48" />
<circle cx="450.60" cy="553.17" r="1.45" fill="#3aac48" />
<circle cx="451.80" cy="548.68" r="1.45" fill="#3aac48" />
<circle cx="453.00" cy="545.56" r="1.45" fill="#3aac48" />
<circle cx="460.50" cy="546.64" r="1.45" fill="#3aac48" />
<circle cx="462.50" cy="543.23" r="1.45" fill="#3aac48" />
<circle cx="470.30" cy="544.41" r="1.45" fill="#3aac48" />
<circle cx="471.80" cy="537.94" r="1.45" fill="#3aac48" />
<circle cx="377.80" cy="461.30" r="1.45" fill="#3aac48" />
<circle cx="380.60" cy="465.90" r="1.45" fill="#3aac48" />
<circle cx="382.90" cy="463.60" r="1.45" fill="#3aac48" />
<circle cx="384.10" cy="457.80" r="1.45" fill="#3aac48" />
<circle cx="387.60" cy="461.90" r="1.45" fill="#3aac48" />
<circle cx="391.60" cy="468.20" r="1.45" fill="#3aac48" />
<circle cx="398.50" cy="478.60" r="1.45" fill="#3aac48" />
<circle cx="402.00" cy="485.00" r="1.45" fill="#3aac48" />
<circle cx="406.00" cy="492.50" r="1.45" fill="#3aac48" />
<circle cx="410.00" cy="500.30" r="1.45" fill="#3aac48" />
<circle cx="414.20" cy="507.70" r="1.45" fill="#3aac48" />
<circle cx="419.50" cy="516.20" r="1.45" fill="#3aac48" />
<circle cx="425.90" cy="520.40" r="1.45" fill="#3aac48" />
<circle cx="431.20" cy="526.70" r="1.45" fill="#3aac48" />
<circle cx="435.40" cy="534.10" r="1.45" fill="#3aac48" />
<circle cx="449.10" cy="559.50" r="1.45" fill="#3aac48" />
<circle cx="451.30" cy="550.00" r="1.45" fill="#3aac48" />
<circle cx="455.50" cy="539.40" r="1.45" fill="#3aac48" />
<circle cx="459.70" cy="547.90" r="1.45" fill="#3aac48" />
<circle cx="462.90" cy="542.60" r="1.45" fill="#3aac48" />
<circle cx="468.20" cy="554.20" r="1.45" fill="#3aac48" />
<circle cx="471.80" cy="537.70" r="1.45" fill="#3aac48" />
<circle cx="483.00" cy="561.60" r="1.45" fill="#3aac48" />
<text x="437.60" y="471.20" font-size="12" text-anchor="start" font-weight="normal" fill="#1c1c1c" stroke="#1c1c1c" stroke-width="0.12" textLength="43.6" lengthAdjust="spacingAndGlyphs" >NES 1.5</text>
<text x="437.60" y="485.30" font-size="12" text-anchor="start" font-weight="normal" fill="#1c1c1c" stroke="#1c1c1c" stroke-width="0.12" textLength="61.0" lengthAdjust="spacingAndGlyphs" >padj. 0.056</text>
<text x="437.60" y="499.40" font-size="12" text-anchor="start" font-weight="normal" fill="#1c1c1c" stroke="#1c1c1c" stroke-width="0.12" textLength="80.5" lengthAdjust="spacingAndGlyphs" >p-value 0.0045</text>
<text x="0.30" y="634.80" font-size="16.5" text-anchor="start" font-weight="bold" fill="#000" stroke="#000" stroke-width="0.2" >F</text>
<text x="50.50" y="637.30" font-size="13.5" text-anchor="start" font-weight="normal" fill="#1c1c1c" stroke="#1c1c1c" stroke-width="0.12" textLength="192.8" lengthAdjust="spacingAndGlyphs" >MAPK1/MAPK3 signaling [n=21]</text>
<text x="356.40" y="638.80" font-size="13.5" text-anchor="start" font-weight="normal" fill="#1c1c1c" stroke="#1c1c1c" stroke-width="0.12" textLength="125.6" lengthAdjust="spacingAndGlyphs" >FLT3 signaling [n=11]</text>
<rect x="73.70" y="657.50" width="24.68" height="10.55" fill="#ef6e55" />
<rect x="98.08" y="657.50" width="24.68" height="10.55" fill="#ef6e55" />
<rect x="122.46" y="657.50" width="24.68" height="10.55" fill="#eee0e0" />
<rect x="146.84" y="657.50" width="24.68" height="10.55" fill="#eee0e0" />
<rect x="171.22" y="657.50" width="24.68" height="10.55" fill="#3f4fb0" />
<rect x="195.60" y="657.50" width="24.68" height="10.55" fill="#8f7dc6" />
<rect x="73.70" y="667.75" width="24.68" height="10.55" fill="#f07a62" />
<rect x="98.08" y="667.75" width="24.68" height="10.55" fill="#ee5a40" />
<rect x="122.46" y="667.75" width="24.68" height="10.55" fill="#d8cce6" />
<rect x="146.84" y="667.75" width="24.68" height="10.55" fill="#f5d5cc" />
<rect x="171.22" y="667.75" width="24.68" height="10.55" fill="#7a68bb" />
<rect x="195.60" y="667.75" width="24.68" height="10.55" fill="#5a52b0" />
<rect x="73.70" y="678.00" width="24.68" height="10.55" fill="#ee5a40" />
<rect x="98.08" y="678.00" width="24.68" height="10.55" fill="#ee6048" />
<rect x="122.46" y="678.00" width="24.68" height="10.55" fill="#c8b8e0" />
<rect x="146.84" y="678.00" width="24.68" height="10.55" fill="#f2dcd8" />
<rect x="171.22" y="678.00" width="24.68" height="10.55" fill="#8070c0" />
<rect x="195.60" y="678.00" width="24.68" height="10.55" fill="#5850b0" />
<rect x="73.70" y="688.25" width="24.68" height="10.55" fill="#f5a890" />
<rect x="98.08" y="688.25" width="24.68" height="10.55" fill="#ee6048" />
<rect x="122.46" y="688.25" width="24.68" height="10.55" fill="#f5b8a0" />
<rect x="146.84" y="688.25" width="24.68" height="10.55" fill="#f5d0c8" />
<rect x="171.22" y="688.25" width="24.68" height="10.55" fill="#6a5cb5" />
<rect x="195.60" y="688.25" width="24.68" height="10.55" fill="#5850b0" />
<rect x="73.70" y="698.50" width="24.68" height="10.55" fill="#f49880" />
<rect x="98.08" y="698.50" width="24.68" height="10.55" fill="#e83a28" />
<rect x="122.46" y="698.50" width="24.68" height="10.55" fill="#f5b0a0" />
<rect x="146.84" y="698.50" width="24.68" height="10.55" fill="#c8b8e0" />
<rect x="171.22" y="698.50" width="24.68" height="10.55" fill="#7060b8" />
<rect x="195.60" y="698.50" width="24.68" height="10.55" fill="#5450b0" />
<rect x="73.70" y="708.75" width="24.68" height="10.55" fill="#f49880" />
<rect x="98.08" y="708.75" width="24.68" height="10.55" fill="#e83a28" />
<rect x="122.46" y="708.75" width="24.68" height="10.55" fill="#f5cac0" />
<rect x="146.84" y="708.75" width="24.68" height="10.55" fill="#b8a8d8" />
<rect x="171.22" y="708.75" width="24.68" height="10.55" fill="#8878c0" />
<rect x="195.60" y="708.75" width="24.68" height="10.55" fill="#5450b0" />
<rect x="73.70" y="719.00" width="24.68" height="10.55" fill="#ee5a40" />
<rect x="98.08" y="719.00" width="24.68" height="10.55" fill="#f07a62" />
<rect x="122.46" y="719.00" width="24.68" height="10.55" fill="#f5d8d0" />
<rect x="146.84" y="719.00" width="24.68" height="10.55" fill="#ccc0e0" />
<rect x="171.22" y="719.00" width="24.68" height="10.55" fill="#8070c0" />
<rect x="195.60" y="719.00" width="24.68" height="10.55" fill="#5a52b0" />
<rect x="73.70" y="729.25" width="24.68" height="10.55" fill="#f28870" />
<rect x="98.08" y="729.25" width="24.68" height="10.55" fill="#f07a62" />
<rect x="122.46" y="729.25" width="24.68" height="10.55" fill="#f5d0c8" />
<rect x="146.84" y="729.25" width="24.68" height="10.55" fill="#ebe5ee" />
<rect x="171.22" y="729.25" width="24.68" height="10.55" fill="#a898cc" />
<rect x="195.60" y="729.25" width="24.68" height="10.55" fill="#3a4aa8" />
<rect x="73.70" y="739.50" width="24.68" height="10.55" fill="#f49880" />
<rect x="98.08" y="739.50" width="24.68" height="10.55" fill="#ee5a40" />
<rect x="122.46" y="739.50" width="24.68" height="10.55" fill="#f5a890" />
<rect x="146.84" y="739.50" width="24.68" height="10.55" fill="#5a52b0" />
<rect x="171.22" y="739.50" width="24.68" height="10.55" fill="#9a88c8" />
<rect x="195.60" y="739.50" width="24.68" height="10.55" fill="#9888c8" />
<rect x="73.70" y="749.75" width="24.68" height="10.55" fill="#f07a62" />
<rect x="98.08" y="749.75" width="24.68" height="10.55" fill="#ee6048" />
<rect x="122.46" y="749.75" width="24.68" height="10.55" fill="#f5a890" />
<rect x="146.84" y="749.75" width="24.68" height="10.55" fill="#6a5cb5" />
<rect x="171.22" y="749.75" width="24.68" height="10.55" fill="#8070c0" />
<rect x="195.60" y="749.75" width="24.68" height="10.55" fill="#a898cc" />
<rect x="73.70" y="760.00" width="24.68" height="10.55" fill="#f5b8a0" />
<rect x="98.08" y="760.00" width="24.68" height="10.55" fill="#ee5030" />
<rect x="122.46" y="760.00" width="24.68" height="10.55" fill="#f28870" />
<rect x="146.84" y="760.00" width="24.68" height="10.55" fill="#7060b8" />
<rect x="171.22" y="760.00" width="24.68" height="10.55" fill="#9a88c8" />
<rect x="195.60" y="760.00" width="24.68" height="10.55" fill="#7060b8" />
<rect x="73.70" y="770.25" width="24.68" height="10.55" fill="#f28870" />
<rect x="98.08" y="770.25" width="24.68" height="10.55" fill="#f07a62" />
<rect x="122.46" y="770.25" width="24.68" height="10.55" fill="#f49880" />
<rect x="146.84" y="770.25" width="24.68" height="10.55" fill="#8070c0" />
<rect x="171.22" y="770.25" width="24.68" height="10.55" fill="#9a88c8" />
<rect x="195.60" y="770.25" width="24.68" height="10.55" fill="#6a5cb5" />
<rect x="73.70" y="780.50" width="24.68" height="10.55" fill="#f28870" />
<rect x="98.08" y="780.50" width="24.68" height="10.55" fill="#f28870" />
<rect x="122.46" y="780.50" width="24.68" height="10.55" fill="#f49880" />
<rect x="146.84" y="780.50" width="24.68" height="10.55" fill="#7a68bb" />
<rect x="171.22" y="780.50" width="24.68" height="10.55" fill="#9a88c8" />
<rect x="195.60" y="780.50" width="24.68" height="10.55" fill="#6a5cb5" />
<rect x="73.70" y="790.75" width="24.68" height="10.55" fill="#f49880" />
<rect x="98.08" y="790.75" width="24.68" height="10.55" fill="#f28870" />
<rect x="122.46" y="790.75" width="24.68" height="10.55" fill="#ee5a40" />
<rect x="146.84" y="790.75" width="24.68" height="10.55" fill="#8070c0" />
<rect x="171.22" y="790.75" width="24.68" height="10.55" fill="#7a68bb" />
<rect x="195.60" y="790.75" width="24.68" height="10.55" fill="#7a68bb" />
<rect x="73.70" y="801.00" width="24.68" height="10.55" fill="#e83a28" />
<rect x="98.08" y="801.00" width="24.68" height="10.55" fill="#f07a62" />
<rect x="122.46" y="801.00" width="24.68" height="10.55" fill="#ebe5ee" />
<rect x="146.84" y="801.00" width="24.68" height="10.55" fill="#8070c0" />
<rect x="171.22" y="801.00" width="24.68" height="10.55" fill="#b8a8d8" />
<rect x="195.60" y="801.00" width="24.68" height="10.55" fill="#6a5cb5" />
<rect x="73.70" y="811.25" width="24.68" height="10.55" fill="#e84030" />
<rect x="98.08" y="811.25" width="24.68" height="10.55" fill="#ee6048" />
<rect x="122.46" y="811.25" width="24.68" height="10.55" fill="#d8cce6" />
<rect x="146.84" y="811.25" width="24.68" height="10.55" fill="#8070c0" />
<rect x="171.22" y="811.25" width="24.68" height="10.55" fill="#b8a8d8" />
<rect x="195.60" y="811.25" width="24.68" height="10.55" fill="#7060b8" />
<rect x="73.70" y="821.50" width="24.68" height="10.55" fill="#e83020" />
<rect x="98.08" y="821.50" width="24.68" height="10.55" fill="#f07a62" />
<rect x="122.46" y="821.50" width="24.68" height="10.55" fill="#d0c4e2" />
<rect x="146.84" y="821.50" width="24.68" height="10.55" fill="#a090c8" />
<rect x="171.22" y="821.50" width="24.68" height="10.55" fill="#a898cc" />
<rect x="195.60" y="821.50" width="24.68" height="10.55" fill="#7060b8" />
<rect x="73.70" y="831.75" width="24.68" height="10.55" fill="#e84030" />
<rect x="98.08" y="831.75" width="24.68" height="10.55" fill="#f5a890" />
<rect x="122.46" y="831.75" width="24.68" height="10.55" fill="#f5b8a0" />
<rect x="146.84" y="831.75" width="24.68" height="10.55" fill="#8878c0" />
<rect x="171.22" y="831.75" width="24.68" height="10.55" fill="#e6e0ee" />
<rect x="195.60" y="831.75" width="24.68" height="10.55" fill="#3c4aa8" />
<rect x="73.70" y="842.00" width="24.68" height="10.55" fill="#ee6048" />
<rect x="98.08" y="842.00" width="24.68" height="10.55" fill="#f5c0b0" />
<rect x="122.46" y="842.00" width="24.68" height="10.55" fill="#ee6048" />
<rect x="146.84" y="842.00" width="24.68" height="10.55" fill="#d0c4e2" />
<rect x="171.22" y="842.00" width="24.68" height="10.55" fill="#6a5cb5" />
<rect x="195.60" y="842.00" width="24.68" height="10.55" fill="#5a52b0" />
<rect x="73.70" y="852.25" width="24.68" height="10.55" fill="#f28870" />
<rect x="98.08" y="852.25" width="24.68" height="10.55" fill="#dcd0e8" />
<rect x="122.46" y="852.25" width="24.68" height="10.55" fill="#e83020" />
<rect x="146.84" y="852.25" width="24.68" height="10.55" fill="#f0ecf0" />
<rect x="171.22" y="852.25" width="24.68" height="10.55" fill="#8070c0" />
<rect x="195.60" y="852.25" width="24.68" height="10.55" fill="#5a52b0" />
<rect x="73.70" y="862.50" width="24.68" height="10.55" fill="#f28870" />
<rect x="98.08" y="862.50" width="24.68" height="10.55" fill="#f5d0c8" />
<rect x="122.46" y="862.50" width="24.68" height="10.55" fill="#ee6048" />
<rect x="146.84" y="862.50" width="24.68" height="10.55" fill="#dcd0e8" />
<rect x="171.22" y="862.50" width="24.68" height="10.55" fill="#a898cc" />
<rect x="195.60" y="862.50" width="24.68" height="10.55" fill="#3450b0" />
<text x="71.20" y="666.02" font-size="9.7" text-anchor="end" font-weight="normal" fill="#1c1c1c" stroke="#1c1c1c" stroke-width="0.06" >PSMB8</text>
<text x="71.20" y="676.27" font-size="9.7" text-anchor="end" font-weight="normal" fill="#1c1c1c" stroke="#1c1c1c" stroke-width="0.06" >CSK</text>
<text x="71.20" y="686.52" font-size="9.7" text-anchor="end" font-weight="normal" fill="#1c1c1c" stroke="#1c1c1c" stroke-width="0.06" >IQGAP1</text>
<text x="71.20" y="696.77" font-size="9.7" text-anchor="end" font-weight="normal" fill="#1c1c1c" stroke="#1c1c1c" stroke-width="0.06" >PSME2</text>
<text x="71.20" y="707.02" font-size="9.7" text-anchor="end" font-weight="normal" fill="#1c1c1c" stroke="#1c1c1c" stroke-width="0.06" >LAMTOR3</text>
<text x="71.20" y="717.27" font-size="9.7" text-anchor="end" font-weight="normal" fill="#1c1c1c" stroke="#1c1c1c" stroke-width="0.06" >PSME1</text>
<text x="71.20" y="727.52" font-size="9.7" text-anchor="end" font-weight="normal" fill="#1c1c1c" stroke="#1c1c1c" stroke-width="0.06" >SPTBN1</text>
<text x="71.20" y="737.77" font-size="9.7" text-anchor="end" font-weight="normal" fill="#1c1c1c" stroke="#1c1c1c" stroke-width="0.06" >PSMD4</text>
<text x="71.20" y="748.02" font-size="9.7" text-anchor="end" font-weight="normal" fill="#1c1c1c" stroke="#1c1c1c" stroke-width="0.06" >ARRB2</text>
<text x="71.20" y="758.27" font-size="9.7" text-anchor="end" font-weight="normal" fill="#1c1c1c" stroke="#1c1c1c" stroke-width="0.06" >CAMK2G</text>
<text x="71.20" y="768.52" font-size="9.7" text-anchor="end" font-weight="normal" fill="#1c1c1c" stroke="#1c1c1c" stroke-width="0.06" >IRS2</text>
<text x="71.20" y="778.77" font-size="9.7" text-anchor="end" font-weight="normal" fill="#1c1c1c" stroke="#1c1c1c" stroke-width="0.06" >YWHAB</text>
<text x="71.20" y="789.02" font-size="9.7" text-anchor="end" font-weight="normal" fill="#1c1c1c" stroke="#1c1c1c" stroke-width="0.06" >MAP2K1</text>
<text x="71.20" y="799.27" font-size="9.7" text-anchor="end" font-weight="normal" fill="#1c1c1c" stroke="#1c1c1c" stroke-width="0.06" >PSMB7</text>
<text x="71.20" y="809.52" font-size="9.7" text-anchor="end" font-weight="normal" fill="#1c1c1c" stroke="#1c1c1c" stroke-width="0.06" >MAP2K2</text>
<text x="71.20" y="819.77" font-size="9.7" text-anchor="end" font-weight="normal" fill="#1c1c1c" stroke="#1c1c1c" stroke-width="0.06" >RASAL3</text>
<text x="71.20" y="830.02" font-size="9.7" text-anchor="end" font-weight="normal" fill="#1c1c1c" stroke="#1c1c1c" stroke-width="0.06" >ACTB</text>
<text x="71.20" y="840.27" font-size="9.7" text-anchor="end" font-weight="normal" fill="#1c1c1c" stroke="#1c1c1c" stroke-width="0.06" >SPTAN1</text>
<text x="71.20" y="850.52" font-size="9.7" text-anchor="end" font-weight="normal" fill="#1c1c1c" stroke="#1c1c1c" stroke-width="0.06" >PSMD5</text>
<text x="71.20" y="860.77" font-size="9.7" text-anchor="end" font-weight="normal" fill="#1c1c1c" stroke="#1c1c1c" stroke-width="0.06" >PSMB5</text>
<text x="71.20" y="871.02" font-size="9.7" text-anchor="end" font-weight="normal" fill="#1c1c1c" stroke="#1c1c1c" stroke-width="0.06" >MAPK1</text>
<text transform="translate(88.89,876.30) rotate(-90)" font-size="9.3" text-anchor="end" fill="#1c1c1c" stroke="#1c1c1c" stroke-width="0.06" textLength="38.4" lengthAdjust="spacingAndGlyphs">HL60R_3</text>
<text transform="translate(113.27,876.30) rotate(-90)" font-size="9.3" text-anchor="end" fill="#1c1c1c" stroke="#1c1c1c" stroke-width="0.06" textLength="38.4" lengthAdjust="spacingAndGlyphs">HL60R_1</text>
<text transform="translate(137.65,876.30) rotate(-90)" font-size="9.3" text-anchor="end" fill="#1c1c1c" stroke="#1c1c1c" stroke-width="0.06" textLength="38.4" lengthAdjust="spacingAndGlyphs">HL60R_2</text>
<text transform="translate(162.03,876.30) rotate(-90)" font-size="9.3" text-anchor="end" fill="#1c1c1c" stroke="#1c1c1c" stroke-width="0.06" textLength="33.2" lengthAdjust="spacingAndGlyphs">HL60_3</text>
<text transform="translate(186.41,876.30) rotate(-90)" font-size="9.3" text-anchor="end" fill="#1c1c1c" stroke="#1c1c1c" stroke-width="0.06" textLength="33.2" lengthAdjust="spacingAndGlyphs">HL60_2</text>
<text transform="translate(210.79,876.30) rotate(-90)" font-size="9.3" text-anchor="end" fill="#1c1c1c" stroke="#1c1c1c" stroke-width="0.06" textLength="33.2" lengthAdjust="spacingAndGlyphs">HL60_1</text>
<rect x="345.60" y="657.50" width="24.65" height="13.95" fill="#e0d8ec" />
<rect x="369.95" y="657.50" width="24.65" height="13.95" fill="#f06a50" />
<rect x="394.30" y="657.50" width="24.65" height="13.95" fill="#e82020" />
<rect x="418.65" y="657.50" width="24.65" height="13.95" fill="#8878c0" />
<rect x="443.00" y="657.50" width="24.65" height="13.95" fill="#6a5cb5" />
<rect x="467.35" y="657.50" width="24.65" height="13.95" fill="#8070c0" />
<rect x="345.60" y="671.15" width="24.65" height="13.95" fill="#f5b8a8" />
<rect x="369.95" y="671.15" width="24.65" height="13.95" fill="#ee5a40" />
<rect x="394.30" y="671.15" width="24.65" height="13.95" fill="#ee5a40" />
<rect x="418.65" y="671.15" width="24.65" height="13.95" fill="#5a52b0" />
<rect x="443.00" y="671.15" width="24.65" height="13.95" fill="#c8b8e0" />
<rect x="467.35" y="671.15" width="24.65" height="13.95" fill="#5450b0" />
<rect x="345.60" y="684.80" width="24.65" height="13.95" fill="#f06a50" />
<rect x="369.95" y="684.80" width="24.65" height="13.95" fill="#f06a50" />
<rect x="394.30" y="684.80" width="24.65" height="13.95" fill="#f0ebe8" />
<rect x="418.65" y="684.80" width="24.65" height="13.95" fill="#7060b8" />
<rect x="443.00" y="684.80" width="24.65" height="13.95" fill="#5450b0" />
<rect x="467.35" y="684.80" width="24.65" height="13.95" fill="#c0c0c0" />
<rect x="345.60" y="698.45" width="24.65" height="13.95" fill="#e84030" />
<rect x="369.95" y="698.45" width="24.65" height="13.95" fill="#f49880" />
<rect x="394.30" y="698.45" width="24.65" height="13.95" fill="#f5a890" />
<rect x="418.65" y="698.45" width="24.65" height="13.95" fill="#8878c0" />
<rect x="443.00" y="698.45" width="24.65" height="13.95" fill="#5450b0" />
<rect x="467.35" y="698.45" width="24.65" height="13.95" fill="#8070c0" />
<rect x="345.60" y="712.10" width="24.65" height="13.95" fill="#ee5a40" />
<rect x="369.95" y="712.10" width="24.65" height="13.95" fill="#f07a62" />
<rect x="394.30" y="712.10" width="24.65" height="13.95" fill="#f5a890" />
<rect x="418.65" y="712.10" width="24.65" height="13.95" fill="#7a68bb" />
<rect x="443.00" y="712.10" width="24.65" height="13.95" fill="#5450b0" />
<rect x="467.35" y="712.10" width="24.65" height="13.95" fill="#a090c8" />
<rect x="345.60" y="725.75" width="24.65" height="13.95" fill="#ee6048" />
<rect x="369.95" y="725.75" width="24.65" height="13.95" fill="#f07a62" />
<rect x="394.30" y="725.75" width="24.65" height="13.95" fill="#f49880" />
<rect x="418.65" y="725.75" width="24.65" height="13.95" fill="#8878c0" />
<rect x="443.00" y="725.75" width="24.65" height="13.95" fill="#7a68bb" />
<rect x="467.35" y="725.75" width="24.65" height="13.95" fill="#5a52b0" />
<rect x="345.60" y="739.40" width="24.65" height="13.95" fill="#ee6048" />
<rect x="369.95" y="739.40" width="24.65" height="13.95" fill="#ee6048" />
<rect x="394.30" y="739.40" width="24.65" height="13.95" fill="#f49880" />
<rect x="418.65" y="739.40" width="24.65" height="13.95" fill="#8070c0" />
<rect x="443.00" y="739.40" width="24.65" height="13.95" fill="#7060b8" />
<rect x="467.35" y="739.40" width="24.65" height="13.95" fill="#6a5cb5" />
<rect x="345.60" y="753.05" width="24.65" height="13.95" fill="#f07a62" />
<rect x="369.95" y="753.05" width="24.65" height="13.95" fill="#e84030" />
<rect x="394.30" y="753.05" width="24.65" height="13.95" fill="#f5b0a0" />
<rect x="418.65" y="753.05" width="24.65" height="13.95" fill="#c0b0dc" />
<rect x="443.00" y="753.05" width="24.65" height="13.95" fill="#8070c0" />
<rect x="467.35" y="753.05" width="24.65" height="13.95" fill="#3c4aa8" />
<rect x="345.60" y="766.70" width="24.65" height="13.95" fill="#e83a28" />
<rect x="369.95" y="766.70" width="24.65" height="13.95" fill="#f5b8a8" />
<rect x="394.30" y="766.70" width="24.65" height="13.95" fill="#f07a62" />
<rect x="418.65" y="766.70" width="24.65" height="13.95" fill="#8878c0" />
<rect x="443.00" y="766.70" width="24.65" height="13.95" fill="#7060b8" />
<rect x="467.35" y="766.70" width="24.65" height="13.95" fill="#6a5cb5" />
<rect x="345.60" y="780.35" width="24.65" height="13.95" fill="#e83020" />
<rect x="369.95" y="780.35" width="24.65" height="13.95" fill="#f49880" />
<rect x="394.30" y="780.35" width="24.65" height="13.95" fill="#f5b8a8" />
<rect x="418.65" y="780.35" width="24.65" height="13.95" fill="#6a5cb5" />
<rect x="443.00" y="780.35" width="24.65" height="13.95" fill="#d0c4e2" />
<rect x="467.35" y="780.35" width="24.65" height="13.95" fill="#5450b0" />
<rect x="345.60" y="794.00" width="24.65" height="13.95" fill="#e83020" />
<rect x="369.95" y="794.00" width="24.65" height="13.95" fill="#f28870" />
<rect x="394.30" y="794.00" width="24.65" height="13.95" fill="#f5d0c8" />
<rect x="418.65" y="794.00" width="24.65" height="13.95" fill="#8878c0" />
<rect x="443.00" y="794.00" width="24.65" height="13.95" fill="#a898cc" />
<rect x="467.35" y="794.00" width="24.65" height="13.95" fill="#5450b0" />
<text x="342.80" y="667.73" font-size="9.7" text-anchor="end" font-weight="normal" fill="#1c1c1c" stroke="#1c1c1c" stroke-width="0.06" >PIK3R1</text>
<text x="342.80" y="681.38" font-size="9.7" text-anchor="end" font-weight="normal" fill="#1c1c1c" stroke="#1c1c1c" stroke-width="0.06" >PSMD5</text>
<text x="342.80" y="695.02" font-size="9.7" text-anchor="end" font-weight="normal" fill="#1c1c1c" stroke="#1c1c1c" stroke-width="0.06" >PSMB9</text>
<text x="342.80" y="708.67" font-size="9.7" text-anchor="end" font-weight="normal" fill="#1c1c1c" stroke="#1c1c1c" stroke-width="0.06" >ARRB2</text>
<text x="342.80" y="722.32" font-size="9.7" text-anchor="end" font-weight="normal" fill="#1c1c1c" stroke="#1c1c1c" stroke-width="0.06" >CAMK2G</text>
<text x="342.80" y="735.98" font-size="9.7" text-anchor="end" font-weight="normal" fill="#1c1c1c" stroke="#1c1c1c" stroke-width="0.06" >YWHAB</text>
<text x="342.80" y="749.62" font-size="9.7" text-anchor="end" font-weight="normal" fill="#1c1c1c" stroke="#1c1c1c" stroke-width="0.06" >MAP2K1</text>
<text x="342.80" y="763.27" font-size="9.7" text-anchor="end" font-weight="normal" fill="#1c1c1c" stroke="#1c1c1c" stroke-width="0.06" >STAT5A</text>
<text x="342.80" y="776.92" font-size="9.7" text-anchor="end" font-weight="normal" fill="#1c1c1c" stroke="#1c1c1c" stroke-width="0.06" >IRS2</text>
<text x="342.80" y="790.57" font-size="9.7" text-anchor="end" font-weight="normal" fill="#1c1c1c" stroke="#1c1c1c" stroke-width="0.06" >LAMTOR3</text>
<text x="342.80" y="804.23" font-size="9.7" text-anchor="end" font-weight="normal" fill="#1c1c1c" stroke="#1c1c1c" stroke-width="0.06" >PSME1</text>
<text transform="translate(360.78,811.60) rotate(-90)" font-size="9.3" text-anchor="end" fill="#1c1c1c" stroke="#1c1c1c" stroke-width="0.06" textLength="38.4" lengthAdjust="spacingAndGlyphs">HL60R_1</text>
<text transform="translate(385.12,811.60) rotate(-90)" font-size="9.3" text-anchor="end" fill="#1c1c1c" stroke="#1c1c1c" stroke-width="0.06" textLength="38.4" lengthAdjust="spacingAndGlyphs">HL60R_3</text>
<text transform="translate(409.48,811.60) rotate(-90)" font-size="9.3" text-anchor="end" fill="#1c1c1c" stroke="#1c1c1c" stroke-width="0.06" textLength="38.4" lengthAdjust="spacingAndGlyphs">HL60R_2</text>
<text transform="translate(433.83,811.60) rotate(-90)" font-size="9.3" text-anchor="end" fill="#1c1c1c" stroke="#1c1c1c" stroke-width="0.06" textLength="33.2" lengthAdjust="spacingAndGlyphs">HL60_2</text>
<text transform="translate(458.18,811.60) rotate(-90)" font-size="9.3" text-anchor="end" fill="#1c1c1c" stroke="#1c1c1c" stroke-width="0.06" textLength="33.2" lengthAdjust="spacingAndGlyphs">HL60_3</text>
<text transform="translate(482.53,811.60) rotate(-90)" font-size="9.3" text-anchor="end" fill="#1c1c1c" stroke="#1c1c1c" stroke-width="0.06" textLength="33.2" lengthAdjust="spacingAndGlyphs">HL60_1</text>
<path d="M85.9 657.5 V654.6 H110.3 V657.5 M98.1 654.6 V651.9 H134.9 V657.5 M116.5 651.9 V646 H177.3 V652.4 M159.2 657.5 V652.4 H195.6 V654.5 M183.4 657.5 V654.5 H207.8 V657.5" fill="none" stroke="#222" stroke-width="1.0"/>
<path d="M357.8 657.5 V653 H394.3 V654.8 M382.1 657.5 V654.8 H406.5 V657.5 M376 653 V646.2 H461.4 V653.5 M430.9 657.5 V655 H455.3 V657.5 M443.1 655 V653.5 H479.7 V657.5" fill="none" stroke="#222" stroke-width="1.0"/>
<path d="M22.3 672.875 H20.4 V683.125 H22.3 M22.3 662.625 H16.4 V678.0 H20.4 M16.4 670.3125 H13 M22.3 703.625 H19.8 V713.875 H22.3 M22.3 724.125 H18 V734.375 H22.3 M19.8 708.75 H16.2 V729.25 H18 M22.3 693.375 H15.4 V719.0 H16.2 M13 670.3125 V706.1875 H15.4 M22.3 744.625 H20.4 V754.875 H22.3 M22.3 775.375 H20.6 V785.625 H22.3 M22.3 765.125 H18.5 V780.5 H20.6 M22.3 795.875 H17.6 V772.8125 H18.5 M20.4 749.75 H16 V784.34375 H17.6 M22.3 816.375 H20.6 V826.625 H22.3 M22.3 806.125 H19.1 V821.5 H20.6 M19.1 813.8125 H14.8 V836.875 H22.3 M15.5 767.046875 H9.8 V825.34375 H14.8 M13 688.25 H9.4 V796.1953125 H9.8 M22.3 857.375 H18.3 V867.625 H22.3 M22.3 847.125 H16 V862.5 H18.3 M9.4 742.22265625 H5.6 V854.8125 H16" fill="none" stroke="#222" stroke-width="0.95"/>
<path d="M293.7 664.325 H286.1 V677.975 H293.7 M293.7 705.275 H291.7 V718.925 H293.7 M293.7 691.625 H288.3 V712.0999999999999 H291.7 M293.7 732.575 H292 V746.225 H293.7 M293.7 759.875 H289.5 V739.4000000000001 H292 M293.7 787.175 H291.7 V800.825 H293.7 M293.7 773.525 H288.3 V794.0 H291.7 M289.5 749.6375 H286.6 V783.7625 H288.3 M288.3 701.8625 H285.6 V766.7 H286.6 M286.1 671.1500000000001 H279.8 V734.28125 H285.6" fill="none" stroke="#222" stroke-width="0.95"/>
<text x="225.80" y="664.60" font-size="10.2" text-anchor="start" font-weight="normal" fill="#2a2a2a" stroke="#2a2a2a" stroke-width="0.15" textLength="22.3" lengthAdjust="spacingAndGlyphs" >Scale</text>
<defs><linearGradient id="g225" x1="0" y1="0" x2="0" y2="1"><stop offset="0" stop-color="#e5141f"/><stop offset="0.12" stop-color="#ea2424"/><stop offset="0.3" stop-color="#f17458"/><stop offset="0.5" stop-color="#f3ecf0"/><stop offset="0.65" stop-color="#9a8bc9"/><stop offset="0.8" stop-color="#4c5cb4"/><stop offset="1" stop-color="#2f4faf"/></linearGradient></defs>
<rect x="225.20" y="667.90" width="8.60" height="37.80" fill="url(#g225)" />
<text x="236.60" y="673.30" font-size="8.9" text-anchor="start" font-weight="normal" fill="#2a2a2a" stroke="#2a2a2a" stroke-width="0.15" >2</text>
<text x="236.60" y="681.40" font-size="8.9" text-anchor="start" font-weight="normal" fill="#2a2a2a" stroke="#2a2a2a" stroke-width="0.15" >1</text>
<text x="236.60" y="689.30" font-size="8.9" text-anchor="start" font-weight="normal" fill="#2a2a2a" stroke="#2a2a2a" stroke-width="0.15" >0</text>
<text x="236.60" y="699.10" font-size="8.9" text-anchor="start" font-weight="normal" fill="#2a2a2a" stroke="#2a2a2a" stroke-width="0.15" textLength="7.3" lengthAdjust="spacingAndGlyphs" >−1</text>
<text x="236.60" y="708.30" font-size="8.9" text-anchor="start" font-weight="normal" fill="#2a2a2a" stroke="#2a2a2a" stroke-width="0.15" textLength="7.3" lengthAdjust="spacingAndGlyphs" >−2</text>
<text x="496.80" y="664.40" font-size="10.2" text-anchor="start" font-weight="normal" fill="#2a2a2a" stroke="#2a2a2a" stroke-width="0.15" textLength="22.3" lengthAdjust="spacingAndGlyphs" >Scale</text>
<defs><linearGradient id="g497" x1="0" y1="0" x2="0" y2="1"><stop offset="0" stop-color="#e5141f"/><stop offset="0.12" stop-color="#ea2424"/><stop offset="0.3" stop-color="#f17458"/><stop offset="0.5" stop-color="#f3ecf0"/><stop offset="0.65" stop-color="#9a8bc9"/><stop offset="0.8" stop-color="#4c5cb4"/><stop offset="1" stop-color="#2f4faf"/></linearGradient></defs>
<rect x="497.10" y="667.70" width="8.60" height="38.00" fill="url(#g497)" />
<text x="508.30" y="673.30" font-size="8.9" text-anchor="start" font-weight="normal" fill="#2a2a2a" stroke="#2a2a2a" stroke-width="0.15" >2</text>
<text x="508.30" y="681.40" font-size="8.9" text-anchor="start" font-weight="normal" fill="#2a2a2a" stroke="#2a2a2a" stroke-width="0.15" >1</text>
<text x="508.30" y="689.30" font-size="8.9" text-anchor="start" font-weight="normal" fill="#2a2a2a" stroke="#2a2a2a" stroke-width="0.15" >0</text>
<text x="508.30" y="699.10" font-size="8.9" text-anchor="start" font-weight="normal" fill="#2a2a2a" stroke="#2a2a2a" stroke-width="0.15" textLength="7.3" lengthAdjust="spacingAndGlyphs" >−1</text>
<text x="508.30" y="708.30" font-size="8.9" text-anchor="start" font-weight="normal" fill="#2a2a2a" stroke="#2a2a2a" stroke-width="0.15" textLength="7.3" lengthAdjust="spacingAndGlyphs" >−2</text>
</svg>
</body></html>
